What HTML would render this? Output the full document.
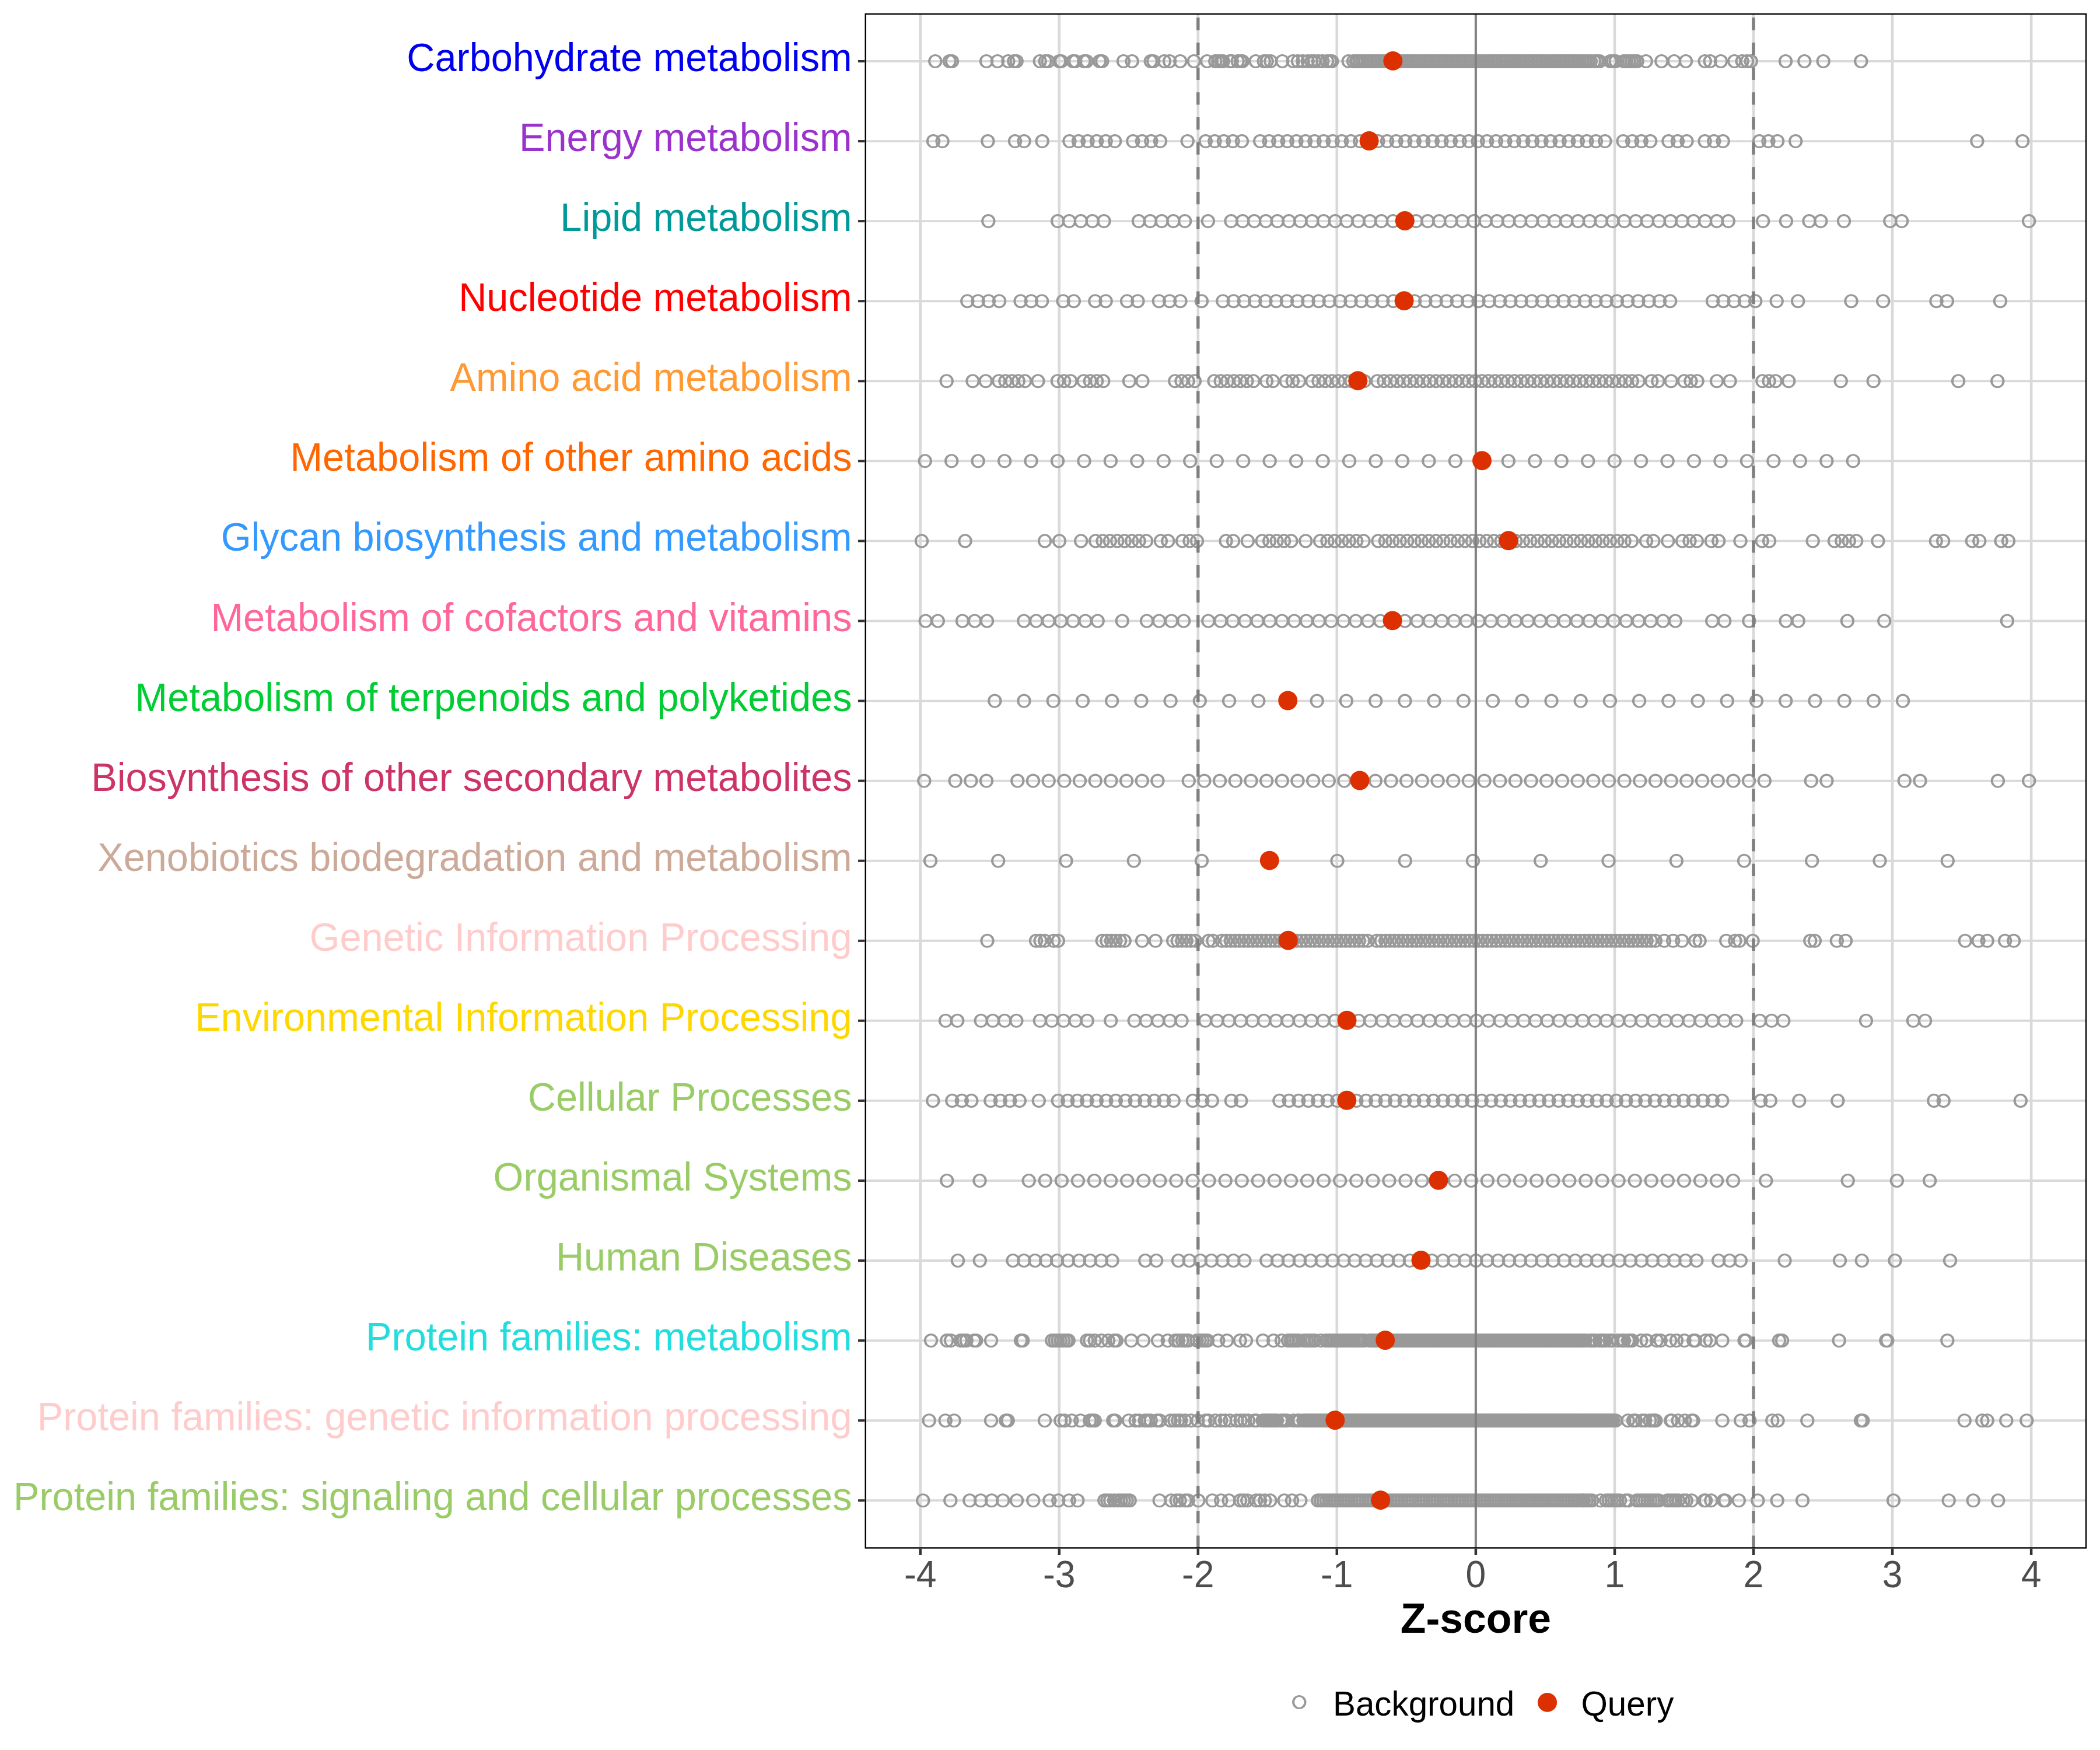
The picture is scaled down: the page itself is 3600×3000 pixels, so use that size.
<!DOCTYPE html><html><head><meta charset="utf-8"><title>Z-score</title>
<style>html,body{margin:0;padding:0;background:#fff}svg{display:block}text{font-family:"Liberation Sans",sans-serif}</style></head><body>
<svg width="3600" height="3000" viewBox="0 0 3600 3000">
<defs><path id="c" d="M-12.2,0A12.2,12.05 0 1,1 12.2,0A12.2,12.05 0 1,1 -12.2,0ZM-8.2,0A8.2,8.95 0 1,0 8.2,0A8.2,8.95 0 1,0 -8.2,0Z" fill="#999999"/></defs>
<rect width="3600" height="3000" fill="#fff"/>
<g stroke="#D9D9D9" fill="none">
<line x1="1577.7" y1="24.0" x2="1577.7" y2="2653.5" stroke-width="4.6"/>
<line x1="1815.8" y1="24.0" x2="1815.8" y2="2653.5" stroke-width="4.6"/>
<line x1="2053.8" y1="24.0" x2="2053.8" y2="2653.5" stroke-width="4.6"/>
<line x1="2291.8" y1="24.0" x2="2291.8" y2="2653.5" stroke-width="4.6"/>
<line x1="2529.9" y1="24.0" x2="2529.9" y2="2653.5" stroke-width="4.6"/>
<line x1="2768" y1="24.0" x2="2768" y2="2653.5" stroke-width="4.6"/>
<line x1="3006" y1="24.0" x2="3006" y2="2653.5" stroke-width="4.6"/>
<line x1="3244.1" y1="24.0" x2="3244.1" y2="2653.5" stroke-width="4.6"/>
<line x1="3482.1" y1="24.0" x2="3482.1" y2="2653.5" stroke-width="4.6"/>
<line x1="1483.7" y1="105" x2="3576.1" y2="105" stroke-width="3.9"/>
<line x1="1483.7" y1="242.1" x2="3576.1" y2="242.1" stroke-width="3.9"/>
<line x1="1483.7" y1="379.1" x2="3576.1" y2="379.1" stroke-width="3.9"/>
<line x1="1483.7" y1="516.2" x2="3576.1" y2="516.2" stroke-width="3.9"/>
<line x1="1483.7" y1="653.3" x2="3576.1" y2="653.3" stroke-width="3.9"/>
<line x1="1483.7" y1="790.3" x2="3576.1" y2="790.3" stroke-width="3.9"/>
<line x1="1483.7" y1="927.4" x2="3576.1" y2="927.4" stroke-width="3.9"/>
<line x1="1483.7" y1="1064.5" x2="3576.1" y2="1064.5" stroke-width="3.9"/>
<line x1="1483.7" y1="1201.6" x2="3576.1" y2="1201.6" stroke-width="3.9"/>
<line x1="1483.7" y1="1338.6" x2="3576.1" y2="1338.6" stroke-width="3.9"/>
<line x1="1483.7" y1="1475.7" x2="3576.1" y2="1475.7" stroke-width="3.9"/>
<line x1="1483.7" y1="1612.8" x2="3576.1" y2="1612.8" stroke-width="3.9"/>
<line x1="1483.7" y1="1749.8" x2="3576.1" y2="1749.8" stroke-width="3.9"/>
<line x1="1483.7" y1="1886.9" x2="3576.1" y2="1886.9" stroke-width="3.9"/>
<line x1="1483.7" y1="2024" x2="3576.1" y2="2024" stroke-width="3.9"/>
<line x1="1483.7" y1="2161" x2="3576.1" y2="2161" stroke-width="3.9"/>
<line x1="1483.7" y1="2298.1" x2="3576.1" y2="2298.1" stroke-width="3.9"/>
<line x1="1483.7" y1="2435.2" x2="3576.1" y2="2435.2" stroke-width="3.9"/>
<line x1="1483.7" y1="2572.3" x2="3576.1" y2="2572.3" stroke-width="3.9"/>
</g>
<g>
<use href="#c" x="1603.3" y="105"/>
<use href="#c" x="1627.7" y="105"/>
<use href="#c" x="1632" y="105"/>
<use href="#c" x="1691" y="105"/>
<use href="#c" x="1710" y="105"/>
<use href="#c" x="1728.3" y="105"/>
<use href="#c" x="1738.3" y="105"/>
<use href="#c" x="1742.7" y="105"/>
<use href="#c" x="1782.7" y="105"/>
<use href="#c" x="1791.7" y="105"/>
<use href="#c" x="1796.7" y="105"/>
<use href="#c" x="1816" y="105"/>
<use href="#c" x="1819.3" y="105"/>
<use href="#c" x="1839.3" y="105"/>
<use href="#c" x="1843.3" y="105"/>
<use href="#c" x="1858.3" y="105"/>
<use href="#c" x="1862.7" y="105"/>
<use href="#c" x="1885" y="105"/>
<use href="#c" x="1889.3" y="105"/>
<use href="#c" x="1926" y="105"/>
<use href="#c" x="1940.7" y="105"/>
<use href="#c" x="1972.7" y="105"/>
<use href="#c" x="1977.3" y="105"/>
<use href="#c" x="1996" y="105"/>
<use href="#c" x="2005" y="105"/>
<use href="#c" x="2023.3" y="105"/>
<use href="#c" x="2046.7" y="105"/>
<use href="#c" x="2069.3" y="105"/>
<use href="#c" x="2083.3" y="105"/>
<use href="#c" x="2088.3" y="105"/>
<use href="#c" x="2093.3" y="105"/>
<use href="#c" x="2096.7" y="105"/>
<use href="#c" x="2108.3" y="105"/>
<use href="#c" x="2111.7" y="105"/>
<use href="#c" x="2121.7" y="105"/>
<use href="#c" x="2126.7" y="105"/>
<use href="#c" x="2130" y="105"/>
<use href="#c" x="2152.7" y="105"/>
<use href="#c" x="2166.7" y="105"/>
<use href="#c" x="2171.7" y="105"/>
<use href="#c" x="2178.3" y="105"/>
<use href="#c" x="2198.3" y="105"/>
<use href="#c" x="2216.7" y="105"/>
<use href="#c" x="2225" y="105"/>
<use href="#c" x="2233.3" y="105"/>
<use href="#c" x="2241.7" y="105"/>
<use href="#c" x="2248.3" y="105"/>
<use href="#c" x="2253.3" y="105"/>
<use href="#c" x="2260" y="105"/>
<use href="#c" x="2267.3" y="105"/>
<use href="#c" x="2275" y="105"/>
<use href="#c" x="2280" y="105"/>
<use href="#c" x="2283.3" y="105"/>
<use href="#c" x="2311.7" y="105"/>
<use href="#c" x="2320" y="105"/>
<use href="#c" x="2325" y="105"/>
<use href="#c" x="2326.7" y="105"/>
<use href="#c" x="2331.3" y="105"/>
<use href="#c" x="2335.9" y="105"/>
<use href="#c" x="2340.5" y="105"/>
<use href="#c" x="2345.1" y="105"/>
<use href="#c" x="2349.7" y="105"/>
<use href="#c" x="2354.3" y="105"/>
<use href="#c" x="2358.9" y="105"/>
<use href="#c" x="2363.5" y="105"/>
<use href="#c" x="2368.1" y="105"/>
<use href="#c" x="2372.7" y="105"/>
<use href="#c" x="2377.3" y="105"/>
<use href="#c" x="2381.9" y="105"/>
<use href="#c" x="2386.5" y="105"/>
<use href="#c" x="2391.1" y="105"/>
<use href="#c" x="2395.7" y="105"/>
<use href="#c" x="2400.3" y="105"/>
<use href="#c" x="2404.9" y="105"/>
<use href="#c" x="2409.5" y="105"/>
<use href="#c" x="2414.1" y="105"/>
<use href="#c" x="2418.7" y="105"/>
<use href="#c" x="2423.3" y="105"/>
<use href="#c" x="2427.9" y="105"/>
<use href="#c" x="2432.5" y="105"/>
<use href="#c" x="2437.1" y="105"/>
<use href="#c" x="2441.7" y="105"/>
<use href="#c" x="2446.3" y="105"/>
<use href="#c" x="2450.9" y="105"/>
<use href="#c" x="2455.5" y="105"/>
<use href="#c" x="2460.1" y="105"/>
<use href="#c" x="2464.7" y="105"/>
<use href="#c" x="2469.3" y="105"/>
<use href="#c" x="2473.9" y="105"/>
<use href="#c" x="2478.5" y="105"/>
<use href="#c" x="2483.1" y="105"/>
<use href="#c" x="2487.7" y="105"/>
<use href="#c" x="2492.3" y="105"/>
<use href="#c" x="2496.9" y="105"/>
<use href="#c" x="2501.5" y="105"/>
<use href="#c" x="2506.1" y="105"/>
<use href="#c" x="2510.7" y="105"/>
<use href="#c" x="2515.3" y="105"/>
<use href="#c" x="2519.9" y="105"/>
<use href="#c" x="2524.5" y="105"/>
<use href="#c" x="2529.1" y="105"/>
<use href="#c" x="2533.7" y="105"/>
<use href="#c" x="2538.3" y="105"/>
<use href="#c" x="2542.9" y="105"/>
<use href="#c" x="2547.5" y="105"/>
<use href="#c" x="2552.1" y="105"/>
<use href="#c" x="2556.7" y="105"/>
<use href="#c" x="2561.3" y="105"/>
<use href="#c" x="2565.9" y="105"/>
<use href="#c" x="2570.5" y="105"/>
<use href="#c" x="2575.1" y="105"/>
<use href="#c" x="2579.7" y="105"/>
<use href="#c" x="2584.3" y="105"/>
<use href="#c" x="2588.9" y="105"/>
<use href="#c" x="2593.5" y="105"/>
<use href="#c" x="2598.1" y="105"/>
<use href="#c" x="2602.7" y="105"/>
<use href="#c" x="2607.3" y="105"/>
<use href="#c" x="2611.9" y="105"/>
<use href="#c" x="2616.5" y="105"/>
<use href="#c" x="2621.1" y="105"/>
<use href="#c" x="2625.7" y="105"/>
<use href="#c" x="2630.3" y="105"/>
<use href="#c" x="2634.9" y="105"/>
<use href="#c" x="2639.5" y="105"/>
<use href="#c" x="2644.1" y="105"/>
<use href="#c" x="2648.7" y="105"/>
<use href="#c" x="2653.3" y="105"/>
<use href="#c" x="2657.9" y="105"/>
<use href="#c" x="2662.5" y="105"/>
<use href="#c" x="2667.1" y="105"/>
<use href="#c" x="2671.7" y="105"/>
<use href="#c" x="2676.3" y="105"/>
<use href="#c" x="2680.9" y="105"/>
<use href="#c" x="2685.5" y="105"/>
<use href="#c" x="2690.1" y="105"/>
<use href="#c" x="2694.7" y="105"/>
<use href="#c" x="2699.3" y="105"/>
<use href="#c" x="2703.9" y="105"/>
<use href="#c" x="2708.5" y="105"/>
<use href="#c" x="2713.1" y="105"/>
<use href="#c" x="2717.7" y="105"/>
<use href="#c" x="2722.3" y="105"/>
<use href="#c" x="2726.9" y="105"/>
<use href="#c" x="2733" y="105"/>
<use href="#c" x="2737.6" y="105"/>
<use href="#c" x="2742.2" y="105"/>
<use href="#c" x="2760.6" y="105"/>
<use href="#c" x="2765.2" y="105"/>
<use href="#c" x="2769.8" y="105"/>
<use href="#c" x="2783.6" y="105"/>
<use href="#c" x="2788.2" y="105"/>
<use href="#c" x="2792.8" y="105"/>
<use href="#c" x="2797.4" y="105"/>
<use href="#c" x="2802" y="105"/>
<use href="#c" x="2806.6" y="105"/>
<use href="#c" x="2821.7" y="105"/>
<use href="#c" x="2848.3" y="105"/>
<use href="#c" x="2870" y="105"/>
<use href="#c" x="2890" y="105"/>
<use href="#c" x="2922.7" y="105"/>
<use href="#c" x="2931.7" y="105"/>
<use href="#c" x="2950" y="105"/>
<use href="#c" x="2973.3" y="105"/>
<use href="#c" x="2986.7" y="105"/>
<use href="#c" x="2995" y="105"/>
<use href="#c" x="3001.7" y="105"/>
<use href="#c" x="3061" y="105"/>
<use href="#c" x="3093.3" y="105"/>
<use href="#c" x="3125.7" y="105"/>
<use href="#c" x="3190.3" y="105"/>
<use href="#c" x="1600" y="242.1"/>
<use href="#c" x="1615.6" y="242.1"/>
<use href="#c" x="1693.4" y="242.1"/>
<use href="#c" x="1740" y="242.1"/>
<use href="#c" x="1755.6" y="242.1"/>
<use href="#c" x="1786.7" y="242.1"/>
<use href="#c" x="1833.4" y="242.1"/>
<use href="#c" x="1849" y="242.1"/>
<use href="#c" x="1864.5" y="242.1"/>
<use href="#c" x="1880.1" y="242.1"/>
<use href="#c" x="1895.6" y="242.1"/>
<use href="#c" x="1911.2" y="242.1"/>
<use href="#c" x="1942.3" y="242.1"/>
<use href="#c" x="1957.9" y="242.1"/>
<use href="#c" x="1973.4" y="242.1"/>
<use href="#c" x="1989" y="242.1"/>
<use href="#c" x="2035.7" y="242.1"/>
<use href="#c" x="2066.8" y="242.1"/>
<use href="#c" x="2082.4" y="242.1"/>
<use href="#c" x="2097.9" y="242.1"/>
<use href="#c" x="2113.5" y="242.1"/>
<use href="#c" x="2129" y="242.1"/>
<use href="#c" x="2160.2" y="242.1"/>
<use href="#c" x="2175.7" y="242.1"/>
<use href="#c" x="2191.3" y="242.1"/>
<use href="#c" x="2206.8" y="242.1"/>
<use href="#c" x="2222.4" y="242.1"/>
<use href="#c" x="2238" y="242.1"/>
<use href="#c" x="2253.5" y="242.1"/>
<use href="#c" x="2269.1" y="242.1"/>
<use href="#c" x="2284.6" y="242.1"/>
<use href="#c" x="2300.2" y="242.1"/>
<use href="#c" x="2315.8" y="242.1"/>
<use href="#c" x="2331.3" y="242.1"/>
<use href="#c" x="2346.9" y="242.1"/>
<use href="#c" x="2362.4" y="242.1"/>
<use href="#c" x="2378" y="242.1"/>
<use href="#c" x="2393.6" y="242.1"/>
<use href="#c" x="2409.1" y="242.1"/>
<use href="#c" x="2424.7" y="242.1"/>
<use href="#c" x="2440.2" y="242.1"/>
<use href="#c" x="2455.8" y="242.1"/>
<use href="#c" x="2471.4" y="242.1"/>
<use href="#c" x="2486.9" y="242.1"/>
<use href="#c" x="2502.5" y="242.1"/>
<use href="#c" x="2518" y="242.1"/>
<use href="#c" x="2533.6" y="242.1"/>
<use href="#c" x="2549.2" y="242.1"/>
<use href="#c" x="2564.7" y="242.1"/>
<use href="#c" x="2580.3" y="242.1"/>
<use href="#c" x="2595.8" y="242.1"/>
<use href="#c" x="2611.4" y="242.1"/>
<use href="#c" x="2627" y="242.1"/>
<use href="#c" x="2642.5" y="242.1"/>
<use href="#c" x="2658.1" y="242.1"/>
<use href="#c" x="2673.6" y="242.1"/>
<use href="#c" x="2689.2" y="242.1"/>
<use href="#c" x="2704.8" y="242.1"/>
<use href="#c" x="2720.3" y="242.1"/>
<use href="#c" x="2735.9" y="242.1"/>
<use href="#c" x="2751.4" y="242.1"/>
<use href="#c" x="2782.6" y="242.1"/>
<use href="#c" x="2798.1" y="242.1"/>
<use href="#c" x="2813.7" y="242.1"/>
<use href="#c" x="2829.2" y="242.1"/>
<use href="#c" x="2860.4" y="242.1"/>
<use href="#c" x="2875.9" y="242.1"/>
<use href="#c" x="2891.5" y="242.1"/>
<use href="#c" x="2922.6" y="242.1"/>
<use href="#c" x="2938.2" y="242.1"/>
<use href="#c" x="2953.7" y="242.1"/>
<use href="#c" x="3016" y="242.1"/>
<use href="#c" x="3031.5" y="242.1"/>
<use href="#c" x="3047.1" y="242.1"/>
<use href="#c" x="3078.2" y="242.1"/>
<use href="#c" x="3389.4" y="242.1"/>
<use href="#c" x="3467.2" y="242.1"/>
<use href="#c" x="1694.3" y="379.1"/>
<use href="#c" x="1813.2" y="379.1"/>
<use href="#c" x="1833" y="379.1"/>
<use href="#c" x="1852.9" y="379.1"/>
<use href="#c" x="1872.7" y="379.1"/>
<use href="#c" x="1892.5" y="379.1"/>
<use href="#c" x="1952" y="379.1"/>
<use href="#c" x="1971.8" y="379.1"/>
<use href="#c" x="1991.6" y="379.1"/>
<use href="#c" x="2011.4" y="379.1"/>
<use href="#c" x="2031.2" y="379.1"/>
<use href="#c" x="2070.9" y="379.1"/>
<use href="#c" x="2110.5" y="379.1"/>
<use href="#c" x="2130.3" y="379.1"/>
<use href="#c" x="2150.2" y="379.1"/>
<use href="#c" x="2170" y="379.1"/>
<use href="#c" x="2189.8" y="379.1"/>
<use href="#c" x="2209.6" y="379.1"/>
<use href="#c" x="2229.4" y="379.1"/>
<use href="#c" x="2249.3" y="379.1"/>
<use href="#c" x="2269.1" y="379.1"/>
<use href="#c" x="2288.9" y="379.1"/>
<use href="#c" x="2308.7" y="379.1"/>
<use href="#c" x="2328.5" y="379.1"/>
<use href="#c" x="2348.4" y="379.1"/>
<use href="#c" x="2368.2" y="379.1"/>
<use href="#c" x="2388" y="379.1"/>
<use href="#c" x="2407.8" y="379.1"/>
<use href="#c" x="2427.6" y="379.1"/>
<use href="#c" x="2447.5" y="379.1"/>
<use href="#c" x="2467.3" y="379.1"/>
<use href="#c" x="2487.1" y="379.1"/>
<use href="#c" x="2506.9" y="379.1"/>
<use href="#c" x="2526.7" y="379.1"/>
<use href="#c" x="2546.6" y="379.1"/>
<use href="#c" x="2566.4" y="379.1"/>
<use href="#c" x="2586.2" y="379.1"/>
<use href="#c" x="2606" y="379.1"/>
<use href="#c" x="2625.8" y="379.1"/>
<use href="#c" x="2645.7" y="379.1"/>
<use href="#c" x="2665.5" y="379.1"/>
<use href="#c" x="2685.3" y="379.1"/>
<use href="#c" x="2705.1" y="379.1"/>
<use href="#c" x="2724.9" y="379.1"/>
<use href="#c" x="2744.8" y="379.1"/>
<use href="#c" x="2764.6" y="379.1"/>
<use href="#c" x="2784.4" y="379.1"/>
<use href="#c" x="2804.2" y="379.1"/>
<use href="#c" x="2824" y="379.1"/>
<use href="#c" x="2843.9" y="379.1"/>
<use href="#c" x="2863.7" y="379.1"/>
<use href="#c" x="2883.5" y="379.1"/>
<use href="#c" x="2903.3" y="379.1"/>
<use href="#c" x="2923.1" y="379.1"/>
<use href="#c" x="2943" y="379.1"/>
<use href="#c" x="2962.8" y="379.1"/>
<use href="#c" x="3022.2" y="379.1"/>
<use href="#c" x="3061.9" y="379.1"/>
<use href="#c" x="3101.5" y="379.1"/>
<use href="#c" x="3121.3" y="379.1"/>
<use href="#c" x="3161" y="379.1"/>
<use href="#c" x="3240.3" y="379.1"/>
<use href="#c" x="3260.1" y="379.1"/>
<use href="#c" x="3478.1" y="379.1"/>
<use href="#c" x="1658.3" y="516.2"/>
<use href="#c" x="1676.6" y="516.2"/>
<use href="#c" x="1694.8" y="516.2"/>
<use href="#c" x="1713.1" y="516.2"/>
<use href="#c" x="1749.6" y="516.2"/>
<use href="#c" x="1767.8" y="516.2"/>
<use href="#c" x="1786.1" y="516.2"/>
<use href="#c" x="1822.6" y="516.2"/>
<use href="#c" x="1840.8" y="516.2"/>
<use href="#c" x="1877.4" y="516.2"/>
<use href="#c" x="1895.6" y="516.2"/>
<use href="#c" x="1932.1" y="516.2"/>
<use href="#c" x="1950.4" y="516.2"/>
<use href="#c" x="1986.9" y="516.2"/>
<use href="#c" x="2005.1" y="516.2"/>
<use href="#c" x="2023.4" y="516.2"/>
<use href="#c" x="2059.9" y="516.2"/>
<use href="#c" x="2096.4" y="516.2"/>
<use href="#c" x="2114.7" y="516.2"/>
<use href="#c" x="2132.9" y="516.2"/>
<use href="#c" x="2151.2" y="516.2"/>
<use href="#c" x="2169.4" y="516.2"/>
<use href="#c" x="2187.7" y="516.2"/>
<use href="#c" x="2205.9" y="516.2"/>
<use href="#c" x="2224.2" y="516.2"/>
<use href="#c" x="2242.5" y="516.2"/>
<use href="#c" x="2260.7" y="516.2"/>
<use href="#c" x="2279" y="516.2"/>
<use href="#c" x="2297.2" y="516.2"/>
<use href="#c" x="2315.5" y="516.2"/>
<use href="#c" x="2333.7" y="516.2"/>
<use href="#c" x="2352" y="516.2"/>
<use href="#c" x="2370.2" y="516.2"/>
<use href="#c" x="2388.5" y="516.2"/>
<use href="#c" x="2406.8" y="516.2"/>
<use href="#c" x="2425" y="516.2"/>
<use href="#c" x="2443.3" y="516.2"/>
<use href="#c" x="2461.5" y="516.2"/>
<use href="#c" x="2479.8" y="516.2"/>
<use href="#c" x="2498" y="516.2"/>
<use href="#c" x="2516.3" y="516.2"/>
<use href="#c" x="2534.5" y="516.2"/>
<use href="#c" x="2552.8" y="516.2"/>
<use href="#c" x="2571.1" y="516.2"/>
<use href="#c" x="2589.3" y="516.2"/>
<use href="#c" x="2607.6" y="516.2"/>
<use href="#c" x="2625.8" y="516.2"/>
<use href="#c" x="2644.1" y="516.2"/>
<use href="#c" x="2662.3" y="516.2"/>
<use href="#c" x="2680.6" y="516.2"/>
<use href="#c" x="2698.8" y="516.2"/>
<use href="#c" x="2717.1" y="516.2"/>
<use href="#c" x="2735.3" y="516.2"/>
<use href="#c" x="2753.6" y="516.2"/>
<use href="#c" x="2771.9" y="516.2"/>
<use href="#c" x="2790.1" y="516.2"/>
<use href="#c" x="2808.4" y="516.2"/>
<use href="#c" x="2826.6" y="516.2"/>
<use href="#c" x="2844.9" y="516.2"/>
<use href="#c" x="2863.1" y="516.2"/>
<use href="#c" x="2936.1" y="516.2"/>
<use href="#c" x="2954.4" y="516.2"/>
<use href="#c" x="2972.7" y="516.2"/>
<use href="#c" x="2990.9" y="516.2"/>
<use href="#c" x="3009.2" y="516.2"/>
<use href="#c" x="3045.7" y="516.2"/>
<use href="#c" x="3082.2" y="516.2"/>
<use href="#c" x="3173.5" y="516.2"/>
<use href="#c" x="3228.2" y="516.2"/>
<use href="#c" x="3319.5" y="516.2"/>
<use href="#c" x="3337.8" y="516.2"/>
<use href="#c" x="3429" y="516.2"/>
<use href="#c" x="1622.7" y="653.3"/>
<use href="#c" x="1667.5" y="653.3"/>
<use href="#c" x="1689.8" y="653.3"/>
<use href="#c" x="1712.2" y="653.3"/>
<use href="#c" x="1723.4" y="653.3"/>
<use href="#c" x="1734.6" y="653.3"/>
<use href="#c" x="1745.8" y="653.3"/>
<use href="#c" x="1757" y="653.3"/>
<use href="#c" x="1779.4" y="653.3"/>
<use href="#c" x="1812.9" y="653.3"/>
<use href="#c" x="1824.1" y="653.3"/>
<use href="#c" x="1835.3" y="653.3"/>
<use href="#c" x="1857.7" y="653.3"/>
<use href="#c" x="1868.9" y="653.3"/>
<use href="#c" x="1880.1" y="653.3"/>
<use href="#c" x="1891.3" y="653.3"/>
<use href="#c" x="1936" y="653.3"/>
<use href="#c" x="1958.4" y="653.3"/>
<use href="#c" x="2014.3" y="653.3"/>
<use href="#c" x="2025.5" y="653.3"/>
<use href="#c" x="2036.7" y="653.3"/>
<use href="#c" x="2047.9" y="653.3"/>
<use href="#c" x="2081.5" y="653.3"/>
<use href="#c" x="2092.7" y="653.3"/>
<use href="#c" x="2103.9" y="653.3"/>
<use href="#c" x="2115.1" y="653.3"/>
<use href="#c" x="2126.2" y="653.3"/>
<use href="#c" x="2137.4" y="653.3"/>
<use href="#c" x="2148.6" y="653.3"/>
<use href="#c" x="2171" y="653.3"/>
<use href="#c" x="2182.2" y="653.3"/>
<use href="#c" x="2204.6" y="653.3"/>
<use href="#c" x="2215.8" y="653.3"/>
<use href="#c" x="2227" y="653.3"/>
<use href="#c" x="2249.3" y="653.3"/>
<use href="#c" x="2260.5" y="653.3"/>
<use href="#c" x="2271.7" y="653.3"/>
<use href="#c" x="2282.9" y="653.3"/>
<use href="#c" x="2294.1" y="653.3"/>
<use href="#c" x="2305.3" y="653.3"/>
<use href="#c" x="2316.5" y="653.3"/>
<use href="#c" x="2327.7" y="653.3"/>
<use href="#c" x="2338.9" y="653.3"/>
<use href="#c" x="2361.2" y="653.3"/>
<use href="#c" x="2372.4" y="653.3"/>
<use href="#c" x="2383.6" y="653.3"/>
<use href="#c" x="2394.8" y="653.3"/>
<use href="#c" x="2406" y="653.3"/>
<use href="#c" x="2417.2" y="653.3"/>
<use href="#c" x="2428.4" y="653.3"/>
<use href="#c" x="2439.6" y="653.3"/>
<use href="#c" x="2450.8" y="653.3"/>
<use href="#c" x="2461.9" y="653.3"/>
<use href="#c" x="2473.1" y="653.3"/>
<use href="#c" x="2484.3" y="653.3"/>
<use href="#c" x="2495.5" y="653.3"/>
<use href="#c" x="2506.7" y="653.3"/>
<use href="#c" x="2517.9" y="653.3"/>
<use href="#c" x="2529.1" y="653.3"/>
<use href="#c" x="2540.3" y="653.3"/>
<use href="#c" x="2551.5" y="653.3"/>
<use href="#c" x="2562.7" y="653.3"/>
<use href="#c" x="2573.8" y="653.3"/>
<use href="#c" x="2585" y="653.3"/>
<use href="#c" x="2596.2" y="653.3"/>
<use href="#c" x="2607.4" y="653.3"/>
<use href="#c" x="2618.6" y="653.3"/>
<use href="#c" x="2629.8" y="653.3"/>
<use href="#c" x="2641" y="653.3"/>
<use href="#c" x="2652.2" y="653.3"/>
<use href="#c" x="2663.4" y="653.3"/>
<use href="#c" x="2674.6" y="653.3"/>
<use href="#c" x="2685.8" y="653.3"/>
<use href="#c" x="2696.9" y="653.3"/>
<use href="#c" x="2708.1" y="653.3"/>
<use href="#c" x="2719.3" y="653.3"/>
<use href="#c" x="2730.5" y="653.3"/>
<use href="#c" x="2741.7" y="653.3"/>
<use href="#c" x="2752.9" y="653.3"/>
<use href="#c" x="2764.1" y="653.3"/>
<use href="#c" x="2775.3" y="653.3"/>
<use href="#c" x="2786.5" y="653.3"/>
<use href="#c" x="2797.7" y="653.3"/>
<use href="#c" x="2808.8" y="653.3"/>
<use href="#c" x="2831.2" y="653.3"/>
<use href="#c" x="2842.4" y="653.3"/>
<use href="#c" x="2864.8" y="653.3"/>
<use href="#c" x="2887.2" y="653.3"/>
<use href="#c" x="2898.4" y="653.3"/>
<use href="#c" x="2909.6" y="653.3"/>
<use href="#c" x="2943.1" y="653.3"/>
<use href="#c" x="2965.5" y="653.3"/>
<use href="#c" x="3021.4" y="653.3"/>
<use href="#c" x="3032.6" y="653.3"/>
<use href="#c" x="3043.8" y="653.3"/>
<use href="#c" x="3066.2" y="653.3"/>
<use href="#c" x="3155.7" y="653.3"/>
<use href="#c" x="3211.7" y="653.3"/>
<use href="#c" x="3357.1" y="653.3"/>
<use href="#c" x="3424.3" y="653.3"/>
<use href="#c" x="1585.7" y="790.3"/>
<use href="#c" x="1631.2" y="790.3"/>
<use href="#c" x="1676.6" y="790.3"/>
<use href="#c" x="1722.1" y="790.3"/>
<use href="#c" x="1767.5" y="790.3"/>
<use href="#c" x="1813" y="790.3"/>
<use href="#c" x="1858.5" y="790.3"/>
<use href="#c" x="1903.9" y="790.3"/>
<use href="#c" x="1949.4" y="790.3"/>
<use href="#c" x="1994.8" y="790.3"/>
<use href="#c" x="2040.3" y="790.3"/>
<use href="#c" x="2085.8" y="790.3"/>
<use href="#c" x="2131.2" y="790.3"/>
<use href="#c" x="2176.7" y="790.3"/>
<use href="#c" x="2222.1" y="790.3"/>
<use href="#c" x="2267.6" y="790.3"/>
<use href="#c" x="2313.1" y="790.3"/>
<use href="#c" x="2358.5" y="790.3"/>
<use href="#c" x="2404" y="790.3"/>
<use href="#c" x="2449.4" y="790.3"/>
<use href="#c" x="2494.9" y="790.3"/>
<use href="#c" x="2540.4" y="790.3"/>
<use href="#c" x="2585.8" y="790.3"/>
<use href="#c" x="2631.3" y="790.3"/>
<use href="#c" x="2676.7" y="790.3"/>
<use href="#c" x="2722.2" y="790.3"/>
<use href="#c" x="2767.7" y="790.3"/>
<use href="#c" x="2813.1" y="790.3"/>
<use href="#c" x="2858.6" y="790.3"/>
<use href="#c" x="2904" y="790.3"/>
<use href="#c" x="2949.5" y="790.3"/>
<use href="#c" x="2995" y="790.3"/>
<use href="#c" x="3040.4" y="790.3"/>
<use href="#c" x="3085.9" y="790.3"/>
<use href="#c" x="3131.3" y="790.3"/>
<use href="#c" x="3176.8" y="790.3"/>
<use href="#c" x="1580" y="927.4"/>
<use href="#c" x="1654.5" y="927.4"/>
<use href="#c" x="1791.1" y="927.4"/>
<use href="#c" x="1816" y="927.4"/>
<use href="#c" x="1853.2" y="927.4"/>
<use href="#c" x="1878.1" y="927.4"/>
<use href="#c" x="1890.5" y="927.4"/>
<use href="#c" x="1902.9" y="927.4"/>
<use href="#c" x="1915.3" y="927.4"/>
<use href="#c" x="1927.8" y="927.4"/>
<use href="#c" x="1940.2" y="927.4"/>
<use href="#c" x="1952.6" y="927.4"/>
<use href="#c" x="1965" y="927.4"/>
<use href="#c" x="1989.9" y="927.4"/>
<use href="#c" x="2002.3" y="927.4"/>
<use href="#c" x="2027.1" y="927.4"/>
<use href="#c" x="2039.5" y="927.4"/>
<use href="#c" x="2052" y="927.4"/>
<use href="#c" x="2101.6" y="927.4"/>
<use href="#c" x="2114.1" y="927.4"/>
<use href="#c" x="2138.9" y="927.4"/>
<use href="#c" x="2163.7" y="927.4"/>
<use href="#c" x="2176.2" y="927.4"/>
<use href="#c" x="2188.6" y="927.4"/>
<use href="#c" x="2201" y="927.4"/>
<use href="#c" x="2213.4" y="927.4"/>
<use href="#c" x="2238.3" y="927.4"/>
<use href="#c" x="2263.1" y="927.4"/>
<use href="#c" x="2275.5" y="927.4"/>
<use href="#c" x="2287.9" y="927.4"/>
<use href="#c" x="2300.4" y="927.4"/>
<use href="#c" x="2312.8" y="927.4"/>
<use href="#c" x="2325.2" y="927.4"/>
<use href="#c" x="2337.6" y="927.4"/>
<use href="#c" x="2362.5" y="927.4"/>
<use href="#c" x="2374.9" y="927.4"/>
<use href="#c" x="2387.3" y="927.4"/>
<use href="#c" x="2399.7" y="927.4"/>
<use href="#c" x="2412.1" y="927.4"/>
<use href="#c" x="2424.6" y="927.4"/>
<use href="#c" x="2437" y="927.4"/>
<use href="#c" x="2449.4" y="927.4"/>
<use href="#c" x="2461.8" y="927.4"/>
<use href="#c" x="2474.2" y="927.4"/>
<use href="#c" x="2486.7" y="927.4"/>
<use href="#c" x="2499.1" y="927.4"/>
<use href="#c" x="2511.5" y="927.4"/>
<use href="#c" x="2523.9" y="927.4"/>
<use href="#c" x="2536.3" y="927.4"/>
<use href="#c" x="2548.8" y="927.4"/>
<use href="#c" x="2561.2" y="927.4"/>
<use href="#c" x="2573.6" y="927.4"/>
<use href="#c" x="2586" y="927.4"/>
<use href="#c" x="2598.4" y="927.4"/>
<use href="#c" x="2610.9" y="927.4"/>
<use href="#c" x="2623.3" y="927.4"/>
<use href="#c" x="2635.7" y="927.4"/>
<use href="#c" x="2648.1" y="927.4"/>
<use href="#c" x="2660.5" y="927.4"/>
<use href="#c" x="2673" y="927.4"/>
<use href="#c" x="2685.4" y="927.4"/>
<use href="#c" x="2697.8" y="927.4"/>
<use href="#c" x="2710.2" y="927.4"/>
<use href="#c" x="2722.6" y="927.4"/>
<use href="#c" x="2735.1" y="927.4"/>
<use href="#c" x="2747.5" y="927.4"/>
<use href="#c" x="2759.9" y="927.4"/>
<use href="#c" x="2772.3" y="927.4"/>
<use href="#c" x="2784.7" y="927.4"/>
<use href="#c" x="2797.2" y="927.4"/>
<use href="#c" x="2822" y="927.4"/>
<use href="#c" x="2834.4" y="927.4"/>
<use href="#c" x="2859.3" y="927.4"/>
<use href="#c" x="2884.1" y="927.4"/>
<use href="#c" x="2896.5" y="927.4"/>
<use href="#c" x="2908.9" y="927.4"/>
<use href="#c" x="2933.8" y="927.4"/>
<use href="#c" x="2946.2" y="927.4"/>
<use href="#c" x="2983.5" y="927.4"/>
<use href="#c" x="3020.7" y="927.4"/>
<use href="#c" x="3033.1" y="927.4"/>
<use href="#c" x="3107.7" y="927.4"/>
<use href="#c" x="3144.9" y="927.4"/>
<use href="#c" x="3157.3" y="927.4"/>
<use href="#c" x="3169.8" y="927.4"/>
<use href="#c" x="3182.2" y="927.4"/>
<use href="#c" x="3219.4" y="927.4"/>
<use href="#c" x="3318.8" y="927.4"/>
<use href="#c" x="3331.2" y="927.4"/>
<use href="#c" x="3380.9" y="927.4"/>
<use href="#c" x="3393.3" y="927.4"/>
<use href="#c" x="3430.6" y="927.4"/>
<use href="#c" x="3443" y="927.4"/>
<use href="#c" x="1586.7" y="1064.5"/>
<use href="#c" x="1607.8" y="1064.5"/>
<use href="#c" x="1649.9" y="1064.5"/>
<use href="#c" x="1671" y="1064.5"/>
<use href="#c" x="1692" y="1064.5"/>
<use href="#c" x="1755.3" y="1064.5"/>
<use href="#c" x="1776.3" y="1064.5"/>
<use href="#c" x="1797.4" y="1064.5"/>
<use href="#c" x="1818.5" y="1064.5"/>
<use href="#c" x="1839.5" y="1064.5"/>
<use href="#c" x="1860.6" y="1064.5"/>
<use href="#c" x="1881.7" y="1064.5"/>
<use href="#c" x="1923.8" y="1064.5"/>
<use href="#c" x="1966" y="1064.5"/>
<use href="#c" x="1987" y="1064.5"/>
<use href="#c" x="2008.1" y="1064.5"/>
<use href="#c" x="2029.2" y="1064.5"/>
<use href="#c" x="2071.3" y="1064.5"/>
<use href="#c" x="2092.4" y="1064.5"/>
<use href="#c" x="2113.4" y="1064.5"/>
<use href="#c" x="2134.5" y="1064.5"/>
<use href="#c" x="2155.6" y="1064.5"/>
<use href="#c" x="2176.7" y="1064.5"/>
<use href="#c" x="2197.7" y="1064.5"/>
<use href="#c" x="2218.8" y="1064.5"/>
<use href="#c" x="2239.9" y="1064.5"/>
<use href="#c" x="2260.9" y="1064.5"/>
<use href="#c" x="2282" y="1064.5"/>
<use href="#c" x="2303.1" y="1064.5"/>
<use href="#c" x="2324.2" y="1064.5"/>
<use href="#c" x="2345.2" y="1064.5"/>
<use href="#c" x="2366.3" y="1064.5"/>
<use href="#c" x="2387.4" y="1064.5"/>
<use href="#c" x="2408.4" y="1064.5"/>
<use href="#c" x="2429.5" y="1064.5"/>
<use href="#c" x="2450.6" y="1064.5"/>
<use href="#c" x="2471.6" y="1064.5"/>
<use href="#c" x="2492.7" y="1064.5"/>
<use href="#c" x="2513.8" y="1064.5"/>
<use href="#c" x="2534.8" y="1064.5"/>
<use href="#c" x="2555.9" y="1064.5"/>
<use href="#c" x="2577" y="1064.5"/>
<use href="#c" x="2598.1" y="1064.5"/>
<use href="#c" x="2619.1" y="1064.5"/>
<use href="#c" x="2640.2" y="1064.5"/>
<use href="#c" x="2661.3" y="1064.5"/>
<use href="#c" x="2682.3" y="1064.5"/>
<use href="#c" x="2703.4" y="1064.5"/>
<use href="#c" x="2724.5" y="1064.5"/>
<use href="#c" x="2745.6" y="1064.5"/>
<use href="#c" x="2766.6" y="1064.5"/>
<use href="#c" x="2787.7" y="1064.5"/>
<use href="#c" x="2808.8" y="1064.5"/>
<use href="#c" x="2829.8" y="1064.5"/>
<use href="#c" x="2850.9" y="1064.5"/>
<use href="#c" x="2872" y="1064.5"/>
<use href="#c" x="2935.2" y="1064.5"/>
<use href="#c" x="2956.2" y="1064.5"/>
<use href="#c" x="2998.4" y="1064.5"/>
<use href="#c" x="3061.6" y="1064.5"/>
<use href="#c" x="3082.7" y="1064.5"/>
<use href="#c" x="3166.9" y="1064.5"/>
<use href="#c" x="3230.2" y="1064.5"/>
<use href="#c" x="3440.9" y="1064.5"/>
<use href="#c" x="1705.3" y="1201.6"/>
<use href="#c" x="1755.5" y="1201.6"/>
<use href="#c" x="1805.7" y="1201.6"/>
<use href="#c" x="1856" y="1201.6"/>
<use href="#c" x="1906.2" y="1201.6"/>
<use href="#c" x="1956.4" y="1201.6"/>
<use href="#c" x="2006.6" y="1201.6"/>
<use href="#c" x="2056.8" y="1201.6"/>
<use href="#c" x="2107.1" y="1201.6"/>
<use href="#c" x="2157.3" y="1201.6"/>
<use href="#c" x="2207.5" y="1201.6"/>
<use href="#c" x="2257.7" y="1201.6"/>
<use href="#c" x="2307.9" y="1201.6"/>
<use href="#c" x="2358.2" y="1201.6"/>
<use href="#c" x="2408.4" y="1201.6"/>
<use href="#c" x="2458.6" y="1201.6"/>
<use href="#c" x="2508.8" y="1201.6"/>
<use href="#c" x="2559" y="1201.6"/>
<use href="#c" x="2609.3" y="1201.6"/>
<use href="#c" x="2659.5" y="1201.6"/>
<use href="#c" x="2709.7" y="1201.6"/>
<use href="#c" x="2759.9" y="1201.6"/>
<use href="#c" x="2810.1" y="1201.6"/>
<use href="#c" x="2860.4" y="1201.6"/>
<use href="#c" x="2910.6" y="1201.6"/>
<use href="#c" x="2960.8" y="1201.6"/>
<use href="#c" x="3011" y="1201.6"/>
<use href="#c" x="3061.2" y="1201.6"/>
<use href="#c" x="3111.5" y="1201.6"/>
<use href="#c" x="3161.7" y="1201.6"/>
<use href="#c" x="3211.9" y="1201.6"/>
<use href="#c" x="3262.1" y="1201.6"/>
<use href="#c" x="1584.3" y="1338.6"/>
<use href="#c" x="1637.6" y="1338.6"/>
<use href="#c" x="1664.3" y="1338.6"/>
<use href="#c" x="1691" y="1338.6"/>
<use href="#c" x="1744.3" y="1338.6"/>
<use href="#c" x="1771" y="1338.6"/>
<use href="#c" x="1797.7" y="1338.6"/>
<use href="#c" x="1824.4" y="1338.6"/>
<use href="#c" x="1851" y="1338.6"/>
<use href="#c" x="1877.7" y="1338.6"/>
<use href="#c" x="1904.4" y="1338.6"/>
<use href="#c" x="1931.1" y="1338.6"/>
<use href="#c" x="1957.8" y="1338.6"/>
<use href="#c" x="1984.4" y="1338.6"/>
<use href="#c" x="2037.8" y="1338.6"/>
<use href="#c" x="2064.4" y="1338.6"/>
<use href="#c" x="2091.1" y="1338.6"/>
<use href="#c" x="2117.8" y="1338.6"/>
<use href="#c" x="2144.5" y="1338.6"/>
<use href="#c" x="2171.2" y="1338.6"/>
<use href="#c" x="2197.8" y="1338.6"/>
<use href="#c" x="2224.5" y="1338.6"/>
<use href="#c" x="2251.2" y="1338.6"/>
<use href="#c" x="2277.8" y="1338.6"/>
<use href="#c" x="2304.5" y="1338.6"/>
<use href="#c" x="2331.2" y="1338.6"/>
<use href="#c" x="2357.9" y="1338.6"/>
<use href="#c" x="2384.6" y="1338.6"/>
<use href="#c" x="2411.2" y="1338.6"/>
<use href="#c" x="2437.9" y="1338.6"/>
<use href="#c" x="2464.6" y="1338.6"/>
<use href="#c" x="2491.2" y="1338.6"/>
<use href="#c" x="2517.9" y="1338.6"/>
<use href="#c" x="2544.6" y="1338.6"/>
<use href="#c" x="2571.3" y="1338.6"/>
<use href="#c" x="2597.9" y="1338.6"/>
<use href="#c" x="2624.6" y="1338.6"/>
<use href="#c" x="2651.3" y="1338.6"/>
<use href="#c" x="2678" y="1338.6"/>
<use href="#c" x="2704.7" y="1338.6"/>
<use href="#c" x="2731.3" y="1338.6"/>
<use href="#c" x="2758" y="1338.6"/>
<use href="#c" x="2784.7" y="1338.6"/>
<use href="#c" x="2811.3" y="1338.6"/>
<use href="#c" x="2838" y="1338.6"/>
<use href="#c" x="2864.7" y="1338.6"/>
<use href="#c" x="2891.4" y="1338.6"/>
<use href="#c" x="2918.1" y="1338.6"/>
<use href="#c" x="2944.7" y="1338.6"/>
<use href="#c" x="2971.4" y="1338.6"/>
<use href="#c" x="2998.1" y="1338.6"/>
<use href="#c" x="3024.8" y="1338.6"/>
<use href="#c" x="3104.8" y="1338.6"/>
<use href="#c" x="3131.4" y="1338.6"/>
<use href="#c" x="3264.8" y="1338.6"/>
<use href="#c" x="3291.5" y="1338.6"/>
<use href="#c" x="3424.9" y="1338.6"/>
<use href="#c" x="3478.2" y="1338.6"/>
<use href="#c" x="1595" y="1475.7"/>
<use href="#c" x="1711.2" y="1475.7"/>
<use href="#c" x="1827.5" y="1475.7"/>
<use href="#c" x="1943.8" y="1475.7"/>
<use href="#c" x="2060" y="1475.7"/>
<use href="#c" x="2176.2" y="1475.7"/>
<use href="#c" x="2292.5" y="1475.7"/>
<use href="#c" x="2408.8" y="1475.7"/>
<use href="#c" x="2525" y="1475.7"/>
<use href="#c" x="2641.2" y="1475.7"/>
<use href="#c" x="2757.5" y="1475.7"/>
<use href="#c" x="2873.8" y="1475.7"/>
<use href="#c" x="2990" y="1475.7"/>
<use href="#c" x="3106.2" y="1475.7"/>
<use href="#c" x="3222.5" y="1475.7"/>
<use href="#c" x="3338.8" y="1475.7"/>
<use href="#c" x="1692.5" y="1612.8"/>
<use href="#c" x="1776" y="1612.8"/>
<use href="#c" x="1783.5" y="1612.8"/>
<use href="#c" x="1791.1" y="1612.8"/>
<use href="#c" x="1806.3" y="1612.8"/>
<use href="#c" x="1813.9" y="1612.8"/>
<use href="#c" x="1889.7" y="1612.8"/>
<use href="#c" x="1897.3" y="1612.8"/>
<use href="#c" x="1904.9" y="1612.8"/>
<use href="#c" x="1912.5" y="1612.8"/>
<use href="#c" x="1920.1" y="1612.8"/>
<use href="#c" x="1927.7" y="1612.8"/>
<use href="#c" x="1958" y="1612.8"/>
<use href="#c" x="1980.8" y="1612.8"/>
<use href="#c" x="2011.1" y="1612.8"/>
<use href="#c" x="2018.7" y="1612.8"/>
<use href="#c" x="2026.3" y="1612.8"/>
<use href="#c" x="2033.8" y="1612.8"/>
<use href="#c" x="2041.4" y="1612.8"/>
<use href="#c" x="2049" y="1612.8"/>
<use href="#c" x="2071.8" y="1612.8"/>
<use href="#c" x="2079.4" y="1612.8"/>
<use href="#c" x="2094.5" y="1612.8"/>
<use href="#c" x="2102.1" y="1612.8"/>
<use href="#c" x="2109.7" y="1612.8"/>
<use href="#c" x="2117.3" y="1612.8"/>
<use href="#c" x="2124.9" y="1612.8"/>
<use href="#c" x="2132.5" y="1612.8"/>
<use href="#c" x="2140" y="1612.8"/>
<use href="#c" x="2147.6" y="1612.8"/>
<use href="#c" x="2155.2" y="1612.8"/>
<use href="#c" x="2162.8" y="1612.8"/>
<use href="#c" x="2170.4" y="1612.8"/>
<use href="#c" x="2178" y="1612.8"/>
<use href="#c" x="2185.6" y="1612.8"/>
<use href="#c" x="2193.1" y="1612.8"/>
<use href="#c" x="2200.7" y="1612.8"/>
<use href="#c" x="2208.3" y="1612.8"/>
<use href="#c" x="2215.9" y="1612.8"/>
<use href="#c" x="2223.5" y="1612.8"/>
<use href="#c" x="2231.1" y="1612.8"/>
<use href="#c" x="2238.6" y="1612.8"/>
<use href="#c" x="2246.2" y="1612.8"/>
<use href="#c" x="2253.8" y="1612.8"/>
<use href="#c" x="2261.4" y="1612.8"/>
<use href="#c" x="2269" y="1612.8"/>
<use href="#c" x="2276.6" y="1612.8"/>
<use href="#c" x="2284.2" y="1612.8"/>
<use href="#c" x="2291.7" y="1612.8"/>
<use href="#c" x="2299.3" y="1612.8"/>
<use href="#c" x="2306.9" y="1612.8"/>
<use href="#c" x="2314.5" y="1612.8"/>
<use href="#c" x="2322.1" y="1612.8"/>
<use href="#c" x="2329.7" y="1612.8"/>
<use href="#c" x="2337.2" y="1612.8"/>
<use href="#c" x="2344.8" y="1612.8"/>
<use href="#c" x="2360" y="1612.8"/>
<use href="#c" x="2367.6" y="1612.8"/>
<use href="#c" x="2375.2" y="1612.8"/>
<use href="#c" x="2382.8" y="1612.8"/>
<use href="#c" x="2390.3" y="1612.8"/>
<use href="#c" x="2397.9" y="1612.8"/>
<use href="#c" x="2405.5" y="1612.8"/>
<use href="#c" x="2413.1" y="1612.8"/>
<use href="#c" x="2420.7" y="1612.8"/>
<use href="#c" x="2428.3" y="1612.8"/>
<use href="#c" x="2435.9" y="1612.8"/>
<use href="#c" x="2443.4" y="1612.8"/>
<use href="#c" x="2451" y="1612.8"/>
<use href="#c" x="2458.6" y="1612.8"/>
<use href="#c" x="2466.2" y="1612.8"/>
<use href="#c" x="2473.8" y="1612.8"/>
<use href="#c" x="2481.4" y="1612.8"/>
<use href="#c" x="2488.9" y="1612.8"/>
<use href="#c" x="2496.5" y="1612.8"/>
<use href="#c" x="2504.1" y="1612.8"/>
<use href="#c" x="2511.7" y="1612.8"/>
<use href="#c" x="2519.3" y="1612.8"/>
<use href="#c" x="2526.9" y="1612.8"/>
<use href="#c" x="2534.5" y="1612.8"/>
<use href="#c" x="2542" y="1612.8"/>
<use href="#c" x="2549.6" y="1612.8"/>
<use href="#c" x="2557.2" y="1612.8"/>
<use href="#c" x="2564.8" y="1612.8"/>
<use href="#c" x="2572.4" y="1612.8"/>
<use href="#c" x="2580" y="1612.8"/>
<use href="#c" x="2587.6" y="1612.8"/>
<use href="#c" x="2595.1" y="1612.8"/>
<use href="#c" x="2602.7" y="1612.8"/>
<use href="#c" x="2610.3" y="1612.8"/>
<use href="#c" x="2617.9" y="1612.8"/>
<use href="#c" x="2625.5" y="1612.8"/>
<use href="#c" x="2633.1" y="1612.8"/>
<use href="#c" x="2640.7" y="1612.8"/>
<use href="#c" x="2648.2" y="1612.8"/>
<use href="#c" x="2655.8" y="1612.8"/>
<use href="#c" x="2663.4" y="1612.8"/>
<use href="#c" x="2671" y="1612.8"/>
<use href="#c" x="2678.6" y="1612.8"/>
<use href="#c" x="2686.2" y="1612.8"/>
<use href="#c" x="2693.7" y="1612.8"/>
<use href="#c" x="2701.3" y="1612.8"/>
<use href="#c" x="2708.9" y="1612.8"/>
<use href="#c" x="2716.5" y="1612.8"/>
<use href="#c" x="2724.1" y="1612.8"/>
<use href="#c" x="2731.7" y="1612.8"/>
<use href="#c" x="2739.3" y="1612.8"/>
<use href="#c" x="2746.8" y="1612.8"/>
<use href="#c" x="2754.4" y="1612.8"/>
<use href="#c" x="2762" y="1612.8"/>
<use href="#c" x="2769.6" y="1612.8"/>
<use href="#c" x="2777.2" y="1612.8"/>
<use href="#c" x="2784.8" y="1612.8"/>
<use href="#c" x="2792.3" y="1612.8"/>
<use href="#c" x="2799.9" y="1612.8"/>
<use href="#c" x="2807.5" y="1612.8"/>
<use href="#c" x="2815.1" y="1612.8"/>
<use href="#c" x="2822.7" y="1612.8"/>
<use href="#c" x="2830.3" y="1612.8"/>
<use href="#c" x="2837.9" y="1612.8"/>
<use href="#c" x="2853" y="1612.8"/>
<use href="#c" x="2868.2" y="1612.8"/>
<use href="#c" x="2883.4" y="1612.8"/>
<use href="#c" x="2906.1" y="1612.8"/>
<use href="#c" x="2913.7" y="1612.8"/>
<use href="#c" x="2959.2" y="1612.8"/>
<use href="#c" x="2974.4" y="1612.8"/>
<use href="#c" x="2982" y="1612.8"/>
<use href="#c" x="3004.7" y="1612.8"/>
<use href="#c" x="3103.3" y="1612.8"/>
<use href="#c" x="3110.9" y="1612.8"/>
<use href="#c" x="3148.8" y="1612.8"/>
<use href="#c" x="3164" y="1612.8"/>
<use href="#c" x="3368.8" y="1612.8"/>
<use href="#c" x="3391.6" y="1612.8"/>
<use href="#c" x="3406.7" y="1612.8"/>
<use href="#c" x="3437.1" y="1612.8"/>
<use href="#c" x="3452.2" y="1612.8"/>
<use href="#c" x="1621" y="1749.8"/>
<use href="#c" x="1641.2" y="1749.8"/>
<use href="#c" x="1681.7" y="1749.8"/>
<use href="#c" x="1701.9" y="1749.8"/>
<use href="#c" x="1722.2" y="1749.8"/>
<use href="#c" x="1742.4" y="1749.8"/>
<use href="#c" x="1782.8" y="1749.8"/>
<use href="#c" x="1803.1" y="1749.8"/>
<use href="#c" x="1823.3" y="1749.8"/>
<use href="#c" x="1843.5" y="1749.8"/>
<use href="#c" x="1863.8" y="1749.8"/>
<use href="#c" x="1904.2" y="1749.8"/>
<use href="#c" x="1944.7" y="1749.8"/>
<use href="#c" x="1964.9" y="1749.8"/>
<use href="#c" x="1985.1" y="1749.8"/>
<use href="#c" x="2005.4" y="1749.8"/>
<use href="#c" x="2025.6" y="1749.8"/>
<use href="#c" x="2066.1" y="1749.8"/>
<use href="#c" x="2086.3" y="1749.8"/>
<use href="#c" x="2106.5" y="1749.8"/>
<use href="#c" x="2126.8" y="1749.8"/>
<use href="#c" x="2147" y="1749.8"/>
<use href="#c" x="2167.2" y="1749.8"/>
<use href="#c" x="2187.4" y="1749.8"/>
<use href="#c" x="2207.7" y="1749.8"/>
<use href="#c" x="2227.9" y="1749.8"/>
<use href="#c" x="2248.1" y="1749.8"/>
<use href="#c" x="2268.4" y="1749.8"/>
<use href="#c" x="2288.6" y="1749.8"/>
<use href="#c" x="2308.8" y="1749.8"/>
<use href="#c" x="2329.1" y="1749.8"/>
<use href="#c" x="2349.3" y="1749.8"/>
<use href="#c" x="2369.5" y="1749.8"/>
<use href="#c" x="2389.7" y="1749.8"/>
<use href="#c" x="2410" y="1749.8"/>
<use href="#c" x="2430.2" y="1749.8"/>
<use href="#c" x="2450.4" y="1749.8"/>
<use href="#c" x="2470.7" y="1749.8"/>
<use href="#c" x="2490.9" y="1749.8"/>
<use href="#c" x="2511.1" y="1749.8"/>
<use href="#c" x="2531.3" y="1749.8"/>
<use href="#c" x="2551.6" y="1749.8"/>
<use href="#c" x="2571.8" y="1749.8"/>
<use href="#c" x="2592" y="1749.8"/>
<use href="#c" x="2612.3" y="1749.8"/>
<use href="#c" x="2632.5" y="1749.8"/>
<use href="#c" x="2652.7" y="1749.8"/>
<use href="#c" x="2673" y="1749.8"/>
<use href="#c" x="2693.2" y="1749.8"/>
<use href="#c" x="2713.4" y="1749.8"/>
<use href="#c" x="2733.7" y="1749.8"/>
<use href="#c" x="2753.9" y="1749.8"/>
<use href="#c" x="2774.1" y="1749.8"/>
<use href="#c" x="2794.3" y="1749.8"/>
<use href="#c" x="2814.6" y="1749.8"/>
<use href="#c" x="2834.8" y="1749.8"/>
<use href="#c" x="2855" y="1749.8"/>
<use href="#c" x="2875.3" y="1749.8"/>
<use href="#c" x="2895.5" y="1749.8"/>
<use href="#c" x="2915.7" y="1749.8"/>
<use href="#c" x="2935.9" y="1749.8"/>
<use href="#c" x="2956.2" y="1749.8"/>
<use href="#c" x="2976.4" y="1749.8"/>
<use href="#c" x="3016.9" y="1749.8"/>
<use href="#c" x="3037.1" y="1749.8"/>
<use href="#c" x="3057.3" y="1749.8"/>
<use href="#c" x="3198.9" y="1749.8"/>
<use href="#c" x="3279.9" y="1749.8"/>
<use href="#c" x="3300.1" y="1749.8"/>
<use href="#c" x="1599.3" y="1886.9"/>
<use href="#c" x="1632.3" y="1886.9"/>
<use href="#c" x="1648.8" y="1886.9"/>
<use href="#c" x="1665.3" y="1886.9"/>
<use href="#c" x="1698.3" y="1886.9"/>
<use href="#c" x="1714.8" y="1886.9"/>
<use href="#c" x="1731.3" y="1886.9"/>
<use href="#c" x="1747.8" y="1886.9"/>
<use href="#c" x="1780.8" y="1886.9"/>
<use href="#c" x="1813.8" y="1886.9"/>
<use href="#c" x="1830.3" y="1886.9"/>
<use href="#c" x="1846.8" y="1886.9"/>
<use href="#c" x="1863.3" y="1886.9"/>
<use href="#c" x="1879.8" y="1886.9"/>
<use href="#c" x="1896.3" y="1886.9"/>
<use href="#c" x="1912.8" y="1886.9"/>
<use href="#c" x="1929.3" y="1886.9"/>
<use href="#c" x="1945.8" y="1886.9"/>
<use href="#c" x="1962.3" y="1886.9"/>
<use href="#c" x="1978.8" y="1886.9"/>
<use href="#c" x="1995.3" y="1886.9"/>
<use href="#c" x="2011.8" y="1886.9"/>
<use href="#c" x="2044.8" y="1886.9"/>
<use href="#c" x="2061.3" y="1886.9"/>
<use href="#c" x="2077.8" y="1886.9"/>
<use href="#c" x="2110.8" y="1886.9"/>
<use href="#c" x="2127.3" y="1886.9"/>
<use href="#c" x="2193.3" y="1886.9"/>
<use href="#c" x="2209.8" y="1886.9"/>
<use href="#c" x="2226.3" y="1886.9"/>
<use href="#c" x="2242.8" y="1886.9"/>
<use href="#c" x="2259.3" y="1886.9"/>
<use href="#c" x="2275.8" y="1886.9"/>
<use href="#c" x="2292.3" y="1886.9"/>
<use href="#c" x="2308.8" y="1886.9"/>
<use href="#c" x="2325.3" y="1886.9"/>
<use href="#c" x="2341.8" y="1886.9"/>
<use href="#c" x="2358.3" y="1886.9"/>
<use href="#c" x="2374.8" y="1886.9"/>
<use href="#c" x="2391.3" y="1886.9"/>
<use href="#c" x="2407.8" y="1886.9"/>
<use href="#c" x="2424.3" y="1886.9"/>
<use href="#c" x="2440.8" y="1886.9"/>
<use href="#c" x="2457.3" y="1886.9"/>
<use href="#c" x="2473.8" y="1886.9"/>
<use href="#c" x="2490.3" y="1886.9"/>
<use href="#c" x="2506.8" y="1886.9"/>
<use href="#c" x="2523.3" y="1886.9"/>
<use href="#c" x="2539.8" y="1886.9"/>
<use href="#c" x="2556.3" y="1886.9"/>
<use href="#c" x="2572.8" y="1886.9"/>
<use href="#c" x="2589.3" y="1886.9"/>
<use href="#c" x="2605.8" y="1886.9"/>
<use href="#c" x="2622.3" y="1886.9"/>
<use href="#c" x="2638.8" y="1886.9"/>
<use href="#c" x="2655.3" y="1886.9"/>
<use href="#c" x="2671.8" y="1886.9"/>
<use href="#c" x="2688.3" y="1886.9"/>
<use href="#c" x="2704.8" y="1886.9"/>
<use href="#c" x="2721.3" y="1886.9"/>
<use href="#c" x="2737.8" y="1886.9"/>
<use href="#c" x="2754.3" y="1886.9"/>
<use href="#c" x="2770.8" y="1886.9"/>
<use href="#c" x="2787.3" y="1886.9"/>
<use href="#c" x="2803.8" y="1886.9"/>
<use href="#c" x="2820.3" y="1886.9"/>
<use href="#c" x="2836.8" y="1886.9"/>
<use href="#c" x="2853.3" y="1886.9"/>
<use href="#c" x="2869.8" y="1886.9"/>
<use href="#c" x="2886.3" y="1886.9"/>
<use href="#c" x="2902.8" y="1886.9"/>
<use href="#c" x="2919.3" y="1886.9"/>
<use href="#c" x="2935.8" y="1886.9"/>
<use href="#c" x="2952.3" y="1886.9"/>
<use href="#c" x="3018.3" y="1886.9"/>
<use href="#c" x="3034.8" y="1886.9"/>
<use href="#c" x="3084.3" y="1886.9"/>
<use href="#c" x="3150.3" y="1886.9"/>
<use href="#c" x="3315.3" y="1886.9"/>
<use href="#c" x="3331.8" y="1886.9"/>
<use href="#c" x="3463.8" y="1886.9"/>
<use href="#c" x="1623.3" y="2024"/>
<use href="#c" x="1679.5" y="2024"/>
<use href="#c" x="1763.7" y="2024"/>
<use href="#c" x="1791.8" y="2024"/>
<use href="#c" x="1819.9" y="2024"/>
<use href="#c" x="1847.9" y="2024"/>
<use href="#c" x="1876" y="2024"/>
<use href="#c" x="1904.1" y="2024"/>
<use href="#c" x="1932.2" y="2024"/>
<use href="#c" x="1960.3" y="2024"/>
<use href="#c" x="1988.3" y="2024"/>
<use href="#c" x="2016.4" y="2024"/>
<use href="#c" x="2044.5" y="2024"/>
<use href="#c" x="2072.6" y="2024"/>
<use href="#c" x="2100.7" y="2024"/>
<use href="#c" x="2128.7" y="2024"/>
<use href="#c" x="2156.8" y="2024"/>
<use href="#c" x="2184.9" y="2024"/>
<use href="#c" x="2213" y="2024"/>
<use href="#c" x="2241.1" y="2024"/>
<use href="#c" x="2269.1" y="2024"/>
<use href="#c" x="2297.2" y="2024"/>
<use href="#c" x="2325.3" y="2024"/>
<use href="#c" x="2353.4" y="2024"/>
<use href="#c" x="2381.5" y="2024"/>
<use href="#c" x="2409.5" y="2024"/>
<use href="#c" x="2437.6" y="2024"/>
<use href="#c" x="2465.7" y="2024"/>
<use href="#c" x="2493.8" y="2024"/>
<use href="#c" x="2521.9" y="2024"/>
<use href="#c" x="2549.9" y="2024"/>
<use href="#c" x="2578" y="2024"/>
<use href="#c" x="2606.1" y="2024"/>
<use href="#c" x="2634.2" y="2024"/>
<use href="#c" x="2662.3" y="2024"/>
<use href="#c" x="2690.3" y="2024"/>
<use href="#c" x="2718.4" y="2024"/>
<use href="#c" x="2746.5" y="2024"/>
<use href="#c" x="2774.6" y="2024"/>
<use href="#c" x="2802.7" y="2024"/>
<use href="#c" x="2830.7" y="2024"/>
<use href="#c" x="2858.8" y="2024"/>
<use href="#c" x="2886.9" y="2024"/>
<use href="#c" x="2915" y="2024"/>
<use href="#c" x="2943.1" y="2024"/>
<use href="#c" x="2971.1" y="2024"/>
<use href="#c" x="3027.3" y="2024"/>
<use href="#c" x="3167.7" y="2024"/>
<use href="#c" x="3251.9" y="2024"/>
<use href="#c" x="3308.1" y="2024"/>
<use href="#c" x="1642" y="2161"/>
<use href="#c" x="1679.8" y="2161"/>
<use href="#c" x="1736.5" y="2161"/>
<use href="#c" x="1755.4" y="2161"/>
<use href="#c" x="1774.3" y="2161"/>
<use href="#c" x="1793.2" y="2161"/>
<use href="#c" x="1812.1" y="2161"/>
<use href="#c" x="1831" y="2161"/>
<use href="#c" x="1849.9" y="2161"/>
<use href="#c" x="1868.8" y="2161"/>
<use href="#c" x="1887.7" y="2161"/>
<use href="#c" x="1906.6" y="2161"/>
<use href="#c" x="1963.3" y="2161"/>
<use href="#c" x="1982.2" y="2161"/>
<use href="#c" x="2020" y="2161"/>
<use href="#c" x="2038.9" y="2161"/>
<use href="#c" x="2057.8" y="2161"/>
<use href="#c" x="2076.7" y="2161"/>
<use href="#c" x="2095.6" y="2161"/>
<use href="#c" x="2114.5" y="2161"/>
<use href="#c" x="2133.4" y="2161"/>
<use href="#c" x="2171.2" y="2161"/>
<use href="#c" x="2190.1" y="2161"/>
<use href="#c" x="2209" y="2161"/>
<use href="#c" x="2227.9" y="2161"/>
<use href="#c" x="2246.8" y="2161"/>
<use href="#c" x="2265.7" y="2161"/>
<use href="#c" x="2284.6" y="2161"/>
<use href="#c" x="2303.5" y="2161"/>
<use href="#c" x="2322.4" y="2161"/>
<use href="#c" x="2341.3" y="2161"/>
<use href="#c" x="2360.2" y="2161"/>
<use href="#c" x="2379.1" y="2161"/>
<use href="#c" x="2398" y="2161"/>
<use href="#c" x="2416.9" y="2161"/>
<use href="#c" x="2435.8" y="2161"/>
<use href="#c" x="2454.7" y="2161"/>
<use href="#c" x="2473.6" y="2161"/>
<use href="#c" x="2492.5" y="2161"/>
<use href="#c" x="2511.4" y="2161"/>
<use href="#c" x="2530.3" y="2161"/>
<use href="#c" x="2549.2" y="2161"/>
<use href="#c" x="2568.1" y="2161"/>
<use href="#c" x="2587" y="2161"/>
<use href="#c" x="2605.9" y="2161"/>
<use href="#c" x="2624.8" y="2161"/>
<use href="#c" x="2643.7" y="2161"/>
<use href="#c" x="2662.6" y="2161"/>
<use href="#c" x="2681.5" y="2161"/>
<use href="#c" x="2700.4" y="2161"/>
<use href="#c" x="2719.3" y="2161"/>
<use href="#c" x="2738.2" y="2161"/>
<use href="#c" x="2757.1" y="2161"/>
<use href="#c" x="2776" y="2161"/>
<use href="#c" x="2794.9" y="2161"/>
<use href="#c" x="2813.8" y="2161"/>
<use href="#c" x="2832.7" y="2161"/>
<use href="#c" x="2851.6" y="2161"/>
<use href="#c" x="2870.5" y="2161"/>
<use href="#c" x="2889.4" y="2161"/>
<use href="#c" x="2908.3" y="2161"/>
<use href="#c" x="2946.1" y="2161"/>
<use href="#c" x="2965" y="2161"/>
<use href="#c" x="2983.9" y="2161"/>
<use href="#c" x="3059.5" y="2161"/>
<use href="#c" x="3154" y="2161"/>
<use href="#c" x="3191.8" y="2161"/>
<use href="#c" x="3248.5" y="2161"/>
<use href="#c" x="3343" y="2161"/>
<use href="#c" x="1596" y="2298.1"/>
<use href="#c" x="1623.3" y="2298.1"/>
<use href="#c" x="1630" y="2298.1"/>
<use href="#c" x="1646.7" y="2298.1"/>
<use href="#c" x="1651.7" y="2298.1"/>
<use href="#c" x="1656.7" y="2298.1"/>
<use href="#c" x="1670" y="2298.1"/>
<use href="#c" x="1673.3" y="2298.1"/>
<use href="#c" x="1699" y="2298.1"/>
<use href="#c" x="1750" y="2298.1"/>
<use href="#c" x="1753.3" y="2298.1"/>
<use href="#c" x="1803.3" y="2298.1"/>
<use href="#c" x="1808.3" y="2298.1"/>
<use href="#c" x="1813.3" y="2298.1"/>
<use href="#c" x="1818.3" y="2298.1"/>
<use href="#c" x="1823.3" y="2298.1"/>
<use href="#c" x="1828.3" y="2298.1"/>
<use href="#c" x="1831.7" y="2298.1"/>
<use href="#c" x="1863.3" y="2298.1"/>
<use href="#c" x="1868.3" y="2298.1"/>
<use href="#c" x="1876.7" y="2298.1"/>
<use href="#c" x="1888.3" y="2298.1"/>
<use href="#c" x="1900" y="2298.1"/>
<use href="#c" x="1910" y="2298.1"/>
<use href="#c" x="1914" y="2298.1"/>
<use href="#c" x="1939.3" y="2298.1"/>
<use href="#c" x="1960" y="2298.1"/>
<use href="#c" x="1985" y="2298.1"/>
<use href="#c" x="2001.7" y="2298.1"/>
<use href="#c" x="2015" y="2298.1"/>
<use href="#c" x="2020" y="2298.1"/>
<use href="#c" x="2026.7" y="2298.1"/>
<use href="#c" x="2031.7" y="2298.1"/>
<use href="#c" x="2037.3" y="2298.1"/>
<use href="#c" x="2051.7" y="2298.1"/>
<use href="#c" x="2056.7" y="2298.1"/>
<use href="#c" x="2061.7" y="2298.1"/>
<use href="#c" x="2066.7" y="2298.1"/>
<use href="#c" x="2070" y="2298.1"/>
<use href="#c" x="2088.3" y="2298.1"/>
<use href="#c" x="2103.3" y="2298.1"/>
<use href="#c" x="2125.7" y="2298.1"/>
<use href="#c" x="2136" y="2298.1"/>
<use href="#c" x="2165" y="2298.1"/>
<use href="#c" x="2183.3" y="2298.1"/>
<use href="#c" x="2197" y="2298.1"/>
<use href="#c" x="2208" y="2298.1"/>
<use href="#c" x="2212.6" y="2298.1"/>
<use href="#c" x="2217.2" y="2298.1"/>
<use href="#c" x="2221.8" y="2298.1"/>
<use href="#c" x="2226.4" y="2298.1"/>
<use href="#c" x="2235.6" y="2298.1"/>
<use href="#c" x="2240.2" y="2298.1"/>
<use href="#c" x="2244.8" y="2298.1"/>
<use href="#c" x="2249.4" y="2298.1"/>
<use href="#c" x="2254" y="2298.1"/>
<use href="#c" x="2264" y="2298.1"/>
<use href="#c" x="2272.8" y="2298.1"/>
<use href="#c" x="2277.2" y="2298.1"/>
<use href="#c" x="2281.6" y="2298.1"/>
<use href="#c" x="2286" y="2298.1"/>
<use href="#c" x="2290.4" y="2298.1"/>
<use href="#c" x="2294.8" y="2298.1"/>
<use href="#c" x="2299.2" y="2298.1"/>
<use href="#c" x="2303.6" y="2298.1"/>
<use href="#c" x="2308" y="2298.1"/>
<use href="#c" x="2312.4" y="2298.1"/>
<use href="#c" x="2316.8" y="2298.1"/>
<use href="#c" x="2321.2" y="2298.1"/>
<use href="#c" x="2325.6" y="2298.1"/>
<use href="#c" x="2330" y="2298.1"/>
<use href="#c" x="2334.4" y="2298.1"/>
<use href="#c" x="2338.8" y="2298.1"/>
<use href="#c" x="2347.6" y="2298.1"/>
<use href="#c" x="2352" y="2298.1"/>
<use href="#c" x="2354" y="2298.1"/>
<use href="#c" x="2357" y="2298.1"/>
<use href="#c" x="2360" y="2298.1"/>
<use href="#c" x="2363" y="2298.1"/>
<use href="#c" x="2366" y="2298.1"/>
<use href="#c" x="2369" y="2298.1"/>
<use href="#c" x="2372" y="2298.1"/>
<use href="#c" x="2375" y="2298.1"/>
<use href="#c" x="2378" y="2298.1"/>
<use href="#c" x="2381" y="2298.1"/>
<use href="#c" x="2384" y="2298.1"/>
<use href="#c" x="2387" y="2298.1"/>
<use href="#c" x="2390" y="2298.1"/>
<use href="#c" x="2393" y="2298.1"/>
<use href="#c" x="2396" y="2298.1"/>
<use href="#c" x="2399" y="2298.1"/>
<use href="#c" x="2402" y="2298.1"/>
<use href="#c" x="2405" y="2298.1"/>
<use href="#c" x="2408" y="2298.1"/>
<use href="#c" x="2411" y="2298.1"/>
<use href="#c" x="2414" y="2298.1"/>
<use href="#c" x="2417" y="2298.1"/>
<use href="#c" x="2420" y="2298.1"/>
<use href="#c" x="2423" y="2298.1"/>
<use href="#c" x="2426" y="2298.1"/>
<use href="#c" x="2429" y="2298.1"/>
<use href="#c" x="2432" y="2298.1"/>
<use href="#c" x="2435" y="2298.1"/>
<use href="#c" x="2438" y="2298.1"/>
<use href="#c" x="2441" y="2298.1"/>
<use href="#c" x="2444" y="2298.1"/>
<use href="#c" x="2447" y="2298.1"/>
<use href="#c" x="2450" y="2298.1"/>
<use href="#c" x="2453" y="2298.1"/>
<use href="#c" x="2456" y="2298.1"/>
<use href="#c" x="2459" y="2298.1"/>
<use href="#c" x="2462" y="2298.1"/>
<use href="#c" x="2465" y="2298.1"/>
<use href="#c" x="2468" y="2298.1"/>
<use href="#c" x="2471" y="2298.1"/>
<use href="#c" x="2474" y="2298.1"/>
<use href="#c" x="2477" y="2298.1"/>
<use href="#c" x="2480" y="2298.1"/>
<use href="#c" x="2483" y="2298.1"/>
<use href="#c" x="2486" y="2298.1"/>
<use href="#c" x="2489" y="2298.1"/>
<use href="#c" x="2492" y="2298.1"/>
<use href="#c" x="2495" y="2298.1"/>
<use href="#c" x="2498" y="2298.1"/>
<use href="#c" x="2501" y="2298.1"/>
<use href="#c" x="2504" y="2298.1"/>
<use href="#c" x="2507" y="2298.1"/>
<use href="#c" x="2510" y="2298.1"/>
<use href="#c" x="2513" y="2298.1"/>
<use href="#c" x="2516" y="2298.1"/>
<use href="#c" x="2519" y="2298.1"/>
<use href="#c" x="2522" y="2298.1"/>
<use href="#c" x="2525" y="2298.1"/>
<use href="#c" x="2528" y="2298.1"/>
<use href="#c" x="2531" y="2298.1"/>
<use href="#c" x="2534" y="2298.1"/>
<use href="#c" x="2537" y="2298.1"/>
<use href="#c" x="2540" y="2298.1"/>
<use href="#c" x="2543" y="2298.1"/>
<use href="#c" x="2546" y="2298.1"/>
<use href="#c" x="2549" y="2298.1"/>
<use href="#c" x="2552" y="2298.1"/>
<use href="#c" x="2555" y="2298.1"/>
<use href="#c" x="2558" y="2298.1"/>
<use href="#c" x="2561" y="2298.1"/>
<use href="#c" x="2564" y="2298.1"/>
<use href="#c" x="2567" y="2298.1"/>
<use href="#c" x="2570" y="2298.1"/>
<use href="#c" x="2573" y="2298.1"/>
<use href="#c" x="2576" y="2298.1"/>
<use href="#c" x="2579" y="2298.1"/>
<use href="#c" x="2582" y="2298.1"/>
<use href="#c" x="2585" y="2298.1"/>
<use href="#c" x="2588" y="2298.1"/>
<use href="#c" x="2591" y="2298.1"/>
<use href="#c" x="2594" y="2298.1"/>
<use href="#c" x="2597" y="2298.1"/>
<use href="#c" x="2600" y="2298.1"/>
<use href="#c" x="2603" y="2298.1"/>
<use href="#c" x="2606" y="2298.1"/>
<use href="#c" x="2609" y="2298.1"/>
<use href="#c" x="2612" y="2298.1"/>
<use href="#c" x="2615" y="2298.1"/>
<use href="#c" x="2618" y="2298.1"/>
<use href="#c" x="2621" y="2298.1"/>
<use href="#c" x="2624" y="2298.1"/>
<use href="#c" x="2627" y="2298.1"/>
<use href="#c" x="2630" y="2298.1"/>
<use href="#c" x="2633" y="2298.1"/>
<use href="#c" x="2636" y="2298.1"/>
<use href="#c" x="2639" y="2298.1"/>
<use href="#c" x="2642" y="2298.1"/>
<use href="#c" x="2645" y="2298.1"/>
<use href="#c" x="2648" y="2298.1"/>
<use href="#c" x="2651" y="2298.1"/>
<use href="#c" x="2654" y="2298.1"/>
<use href="#c" x="2657" y="2298.1"/>
<use href="#c" x="2660" y="2298.1"/>
<use href="#c" x="2663" y="2298.1"/>
<use href="#c" x="2666" y="2298.1"/>
<use href="#c" x="2669" y="2298.1"/>
<use href="#c" x="2672" y="2298.1"/>
<use href="#c" x="2675" y="2298.1"/>
<use href="#c" x="2678" y="2298.1"/>
<use href="#c" x="2681" y="2298.1"/>
<use href="#c" x="2684" y="2298.1"/>
<use href="#c" x="2687" y="2298.1"/>
<use href="#c" x="2690" y="2298.1"/>
<use href="#c" x="2693" y="2298.1"/>
<use href="#c" x="2696" y="2298.1"/>
<use href="#c" x="2699" y="2298.1"/>
<use href="#c" x="2702" y="2298.1"/>
<use href="#c" x="2705" y="2298.1"/>
<use href="#c" x="2708" y="2298.1"/>
<use href="#c" x="2711" y="2298.1"/>
<use href="#c" x="2714" y="2298.1"/>
<use href="#c" x="2717.5" y="2298.1"/>
<use href="#c" x="2724.5" y="2298.1"/>
<use href="#c" x="2728" y="2298.1"/>
<use href="#c" x="2731.5" y="2298.1"/>
<use href="#c" x="2735" y="2298.1"/>
<use href="#c" x="2742" y="2298.1"/>
<use href="#c" x="2745.5" y="2298.1"/>
<use href="#c" x="2749" y="2298.1"/>
<use href="#c" x="2752.5" y="2298.1"/>
<use href="#c" x="2759.5" y="2298.1"/>
<use href="#c" x="2763" y="2298.1"/>
<use href="#c" x="2773.5" y="2298.1"/>
<use href="#c" x="2780.5" y="2298.1"/>
<use href="#c" x="2784" y="2298.1"/>
<use href="#c" x="2791" y="2298.1"/>
<use href="#c" x="2794.5" y="2298.1"/>
<use href="#c" x="2798" y="2298.1"/>
<use href="#c" x="2813.3" y="2298.1"/>
<use href="#c" x="2822.5" y="2298.1"/>
<use href="#c" x="2823.3" y="2298.1"/>
<use href="#c" x="2840" y="2298.1"/>
<use href="#c" x="2846.7" y="2298.1"/>
<use href="#c" x="2863.3" y="2298.1"/>
<use href="#c" x="2874" y="2298.1"/>
<use href="#c" x="2887.5" y="2298.1"/>
<use href="#c" x="2903.3" y="2298.1"/>
<use href="#c" x="2906" y="2298.1"/>
<use href="#c" x="2924" y="2298.1"/>
<use href="#c" x="2931.7" y="2298.1"/>
<use href="#c" x="2952.5" y="2298.1"/>
<use href="#c" x="2990.5" y="2298.1"/>
<use href="#c" x="2992.5" y="2298.1"/>
<use href="#c" x="3050" y="2298.1"/>
<use href="#c" x="3055" y="2298.1"/>
<use href="#c" x="3152.7" y="2298.1"/>
<use href="#c" x="3233.3" y="2298.1"/>
<use href="#c" x="3235.3" y="2298.1"/>
<use href="#c" x="3338.3" y="2298.1"/>
<use href="#c" x="1592.7" y="2435.2"/>
<use href="#c" x="1620.7" y="2435.2"/>
<use href="#c" x="1635.7" y="2435.2"/>
<use href="#c" x="1699" y="2435.2"/>
<use href="#c" x="1724.3" y="2435.2"/>
<use href="#c" x="1727.7" y="2435.2"/>
<use href="#c" x="1791" y="2435.2"/>
<use href="#c" x="1818.3" y="2435.2"/>
<use href="#c" x="1825" y="2435.2"/>
<use href="#c" x="1837.3" y="2435.2"/>
<use href="#c" x="1852.3" y="2435.2"/>
<use href="#c" x="1868.3" y="2435.2"/>
<use href="#c" x="1872.7" y="2435.2"/>
<use href="#c" x="1876.7" y="2435.2"/>
<use href="#c" x="1908.3" y="2435.2"/>
<use href="#c" x="1911.7" y="2435.2"/>
<use href="#c" x="1935" y="2435.2"/>
<use href="#c" x="1946.7" y="2435.2"/>
<use href="#c" x="1952.7" y="2435.2"/>
<use href="#c" x="1962.7" y="2435.2"/>
<use href="#c" x="1967.3" y="2435.2"/>
<use href="#c" x="1972.7" y="2435.2"/>
<use href="#c" x="1983.3" y="2435.2"/>
<use href="#c" x="1988.3" y="2435.2"/>
<use href="#c" x="2006.7" y="2435.2"/>
<use href="#c" x="2013.3" y="2435.2"/>
<use href="#c" x="2019.3" y="2435.2"/>
<use href="#c" x="2024.3" y="2435.2"/>
<use href="#c" x="2031.7" y="2435.2"/>
<use href="#c" x="2041.7" y="2435.2"/>
<use href="#c" x="2053.3" y="2435.2"/>
<use href="#c" x="2066.7" y="2435.2"/>
<use href="#c" x="2071.7" y="2435.2"/>
<use href="#c" x="2083.3" y="2435.2"/>
<use href="#c" x="2093.3" y="2435.2"/>
<use href="#c" x="2100" y="2435.2"/>
<use href="#c" x="2108.3" y="2435.2"/>
<use href="#c" x="2120" y="2435.2"/>
<use href="#c" x="2126.7" y="2435.2"/>
<use href="#c" x="2133.3" y="2435.2"/>
<use href="#c" x="2140" y="2435.2"/>
<use href="#c" x="2150.5" y="2435.2"/>
<use href="#c" x="2154" y="2435.2"/>
<use href="#c" x="2164.5" y="2435.2"/>
<use href="#c" x="2168" y="2435.2"/>
<use href="#c" x="2171.5" y="2435.2"/>
<use href="#c" x="2175" y="2435.2"/>
<use href="#c" x="2178.5" y="2435.2"/>
<use href="#c" x="2182" y="2435.2"/>
<use href="#c" x="2185.5" y="2435.2"/>
<use href="#c" x="2189" y="2435.2"/>
<use href="#c" x="2196" y="2435.2"/>
<use href="#c" x="2199.5" y="2435.2"/>
<use href="#c" x="2203" y="2435.2"/>
<use href="#c" x="2206.5" y="2435.2"/>
<use href="#c" x="2217" y="2435.2"/>
<use href="#c" x="2224" y="2435.2"/>
<use href="#c" x="2227.5" y="2435.2"/>
<use href="#c" x="2234.5" y="2435.2"/>
<use href="#c" x="2238" y="2435.2"/>
<use href="#c" x="2241.5" y="2435.2"/>
<use href="#c" x="2245" y="2435.2"/>
<use href="#c" x="2248.5" y="2435.2"/>
<use href="#c" x="2252" y="2435.2"/>
<use href="#c" x="2255.5" y="2435.2"/>
<use href="#c" x="2259" y="2435.2"/>
<use href="#c" x="2262.5" y="2435.2"/>
<use href="#c" x="2266" y="2435.2"/>
<use href="#c" x="2269.5" y="2435.2"/>
<use href="#c" x="2273" y="2435.2"/>
<use href="#c" x="2275" y="2435.2"/>
<use href="#c" x="2277.9" y="2435.2"/>
<use href="#c" x="2280.8" y="2435.2"/>
<use href="#c" x="2283.7" y="2435.2"/>
<use href="#c" x="2286.6" y="2435.2"/>
<use href="#c" x="2289.5" y="2435.2"/>
<use href="#c" x="2292.4" y="2435.2"/>
<use href="#c" x="2295.3" y="2435.2"/>
<use href="#c" x="2298.2" y="2435.2"/>
<use href="#c" x="2301.1" y="2435.2"/>
<use href="#c" x="2304" y="2435.2"/>
<use href="#c" x="2306.9" y="2435.2"/>
<use href="#c" x="2309.8" y="2435.2"/>
<use href="#c" x="2312.7" y="2435.2"/>
<use href="#c" x="2315.6" y="2435.2"/>
<use href="#c" x="2318.5" y="2435.2"/>
<use href="#c" x="2321.4" y="2435.2"/>
<use href="#c" x="2324.3" y="2435.2"/>
<use href="#c" x="2327.2" y="2435.2"/>
<use href="#c" x="2330.1" y="2435.2"/>
<use href="#c" x="2333" y="2435.2"/>
<use href="#c" x="2335.9" y="2435.2"/>
<use href="#c" x="2338.8" y="2435.2"/>
<use href="#c" x="2341.7" y="2435.2"/>
<use href="#c" x="2344.6" y="2435.2"/>
<use href="#c" x="2347.5" y="2435.2"/>
<use href="#c" x="2350.4" y="2435.2"/>
<use href="#c" x="2353.3" y="2435.2"/>
<use href="#c" x="2356.2" y="2435.2"/>
<use href="#c" x="2359.1" y="2435.2"/>
<use href="#c" x="2362" y="2435.2"/>
<use href="#c" x="2364.9" y="2435.2"/>
<use href="#c" x="2367.8" y="2435.2"/>
<use href="#c" x="2370.7" y="2435.2"/>
<use href="#c" x="2373.6" y="2435.2"/>
<use href="#c" x="2376.5" y="2435.2"/>
<use href="#c" x="2379.4" y="2435.2"/>
<use href="#c" x="2382.3" y="2435.2"/>
<use href="#c" x="2385.2" y="2435.2"/>
<use href="#c" x="2388.1" y="2435.2"/>
<use href="#c" x="2391" y="2435.2"/>
<use href="#c" x="2393.9" y="2435.2"/>
<use href="#c" x="2396.8" y="2435.2"/>
<use href="#c" x="2399.7" y="2435.2"/>
<use href="#c" x="2402.6" y="2435.2"/>
<use href="#c" x="2405.5" y="2435.2"/>
<use href="#c" x="2408.4" y="2435.2"/>
<use href="#c" x="2411.3" y="2435.2"/>
<use href="#c" x="2414.2" y="2435.2"/>
<use href="#c" x="2417.1" y="2435.2"/>
<use href="#c" x="2420" y="2435.2"/>
<use href="#c" x="2422.9" y="2435.2"/>
<use href="#c" x="2425.8" y="2435.2"/>
<use href="#c" x="2428.7" y="2435.2"/>
<use href="#c" x="2431.6" y="2435.2"/>
<use href="#c" x="2434.5" y="2435.2"/>
<use href="#c" x="2437.4" y="2435.2"/>
<use href="#c" x="2440.3" y="2435.2"/>
<use href="#c" x="2443.2" y="2435.2"/>
<use href="#c" x="2446.1" y="2435.2"/>
<use href="#c" x="2449" y="2435.2"/>
<use href="#c" x="2451.9" y="2435.2"/>
<use href="#c" x="2454.8" y="2435.2"/>
<use href="#c" x="2457.7" y="2435.2"/>
<use href="#c" x="2460.6" y="2435.2"/>
<use href="#c" x="2463.5" y="2435.2"/>
<use href="#c" x="2466.4" y="2435.2"/>
<use href="#c" x="2469.3" y="2435.2"/>
<use href="#c" x="2472.2" y="2435.2"/>
<use href="#c" x="2475.1" y="2435.2"/>
<use href="#c" x="2478" y="2435.2"/>
<use href="#c" x="2480.9" y="2435.2"/>
<use href="#c" x="2483.8" y="2435.2"/>
<use href="#c" x="2486.7" y="2435.2"/>
<use href="#c" x="2489.6" y="2435.2"/>
<use href="#c" x="2492.5" y="2435.2"/>
<use href="#c" x="2495.4" y="2435.2"/>
<use href="#c" x="2498.3" y="2435.2"/>
<use href="#c" x="2501.2" y="2435.2"/>
<use href="#c" x="2504.1" y="2435.2"/>
<use href="#c" x="2507" y="2435.2"/>
<use href="#c" x="2509.9" y="2435.2"/>
<use href="#c" x="2512.8" y="2435.2"/>
<use href="#c" x="2515.7" y="2435.2"/>
<use href="#c" x="2518.6" y="2435.2"/>
<use href="#c" x="2521.5" y="2435.2"/>
<use href="#c" x="2524.4" y="2435.2"/>
<use href="#c" x="2527.3" y="2435.2"/>
<use href="#c" x="2530.2" y="2435.2"/>
<use href="#c" x="2533.1" y="2435.2"/>
<use href="#c" x="2536" y="2435.2"/>
<use href="#c" x="2538.9" y="2435.2"/>
<use href="#c" x="2541.8" y="2435.2"/>
<use href="#c" x="2544.7" y="2435.2"/>
<use href="#c" x="2547.6" y="2435.2"/>
<use href="#c" x="2550.5" y="2435.2"/>
<use href="#c" x="2553.4" y="2435.2"/>
<use href="#c" x="2556.3" y="2435.2"/>
<use href="#c" x="2559.2" y="2435.2"/>
<use href="#c" x="2562.1" y="2435.2"/>
<use href="#c" x="2565" y="2435.2"/>
<use href="#c" x="2567.9" y="2435.2"/>
<use href="#c" x="2570.8" y="2435.2"/>
<use href="#c" x="2573.7" y="2435.2"/>
<use href="#c" x="2576.6" y="2435.2"/>
<use href="#c" x="2579.5" y="2435.2"/>
<use href="#c" x="2582.4" y="2435.2"/>
<use href="#c" x="2585.3" y="2435.2"/>
<use href="#c" x="2588.2" y="2435.2"/>
<use href="#c" x="2591.1" y="2435.2"/>
<use href="#c" x="2594" y="2435.2"/>
<use href="#c" x="2596.9" y="2435.2"/>
<use href="#c" x="2599.8" y="2435.2"/>
<use href="#c" x="2602.7" y="2435.2"/>
<use href="#c" x="2605.6" y="2435.2"/>
<use href="#c" x="2608.5" y="2435.2"/>
<use href="#c" x="2611.4" y="2435.2"/>
<use href="#c" x="2614.3" y="2435.2"/>
<use href="#c" x="2617.2" y="2435.2"/>
<use href="#c" x="2620.1" y="2435.2"/>
<use href="#c" x="2623" y="2435.2"/>
<use href="#c" x="2625.9" y="2435.2"/>
<use href="#c" x="2628.8" y="2435.2"/>
<use href="#c" x="2631.7" y="2435.2"/>
<use href="#c" x="2634.6" y="2435.2"/>
<use href="#c" x="2637.5" y="2435.2"/>
<use href="#c" x="2640.4" y="2435.2"/>
<use href="#c" x="2643.3" y="2435.2"/>
<use href="#c" x="2646.2" y="2435.2"/>
<use href="#c" x="2649.1" y="2435.2"/>
<use href="#c" x="2652" y="2435.2"/>
<use href="#c" x="2654.9" y="2435.2"/>
<use href="#c" x="2657.8" y="2435.2"/>
<use href="#c" x="2660.7" y="2435.2"/>
<use href="#c" x="2663.6" y="2435.2"/>
<use href="#c" x="2666.5" y="2435.2"/>
<use href="#c" x="2669.4" y="2435.2"/>
<use href="#c" x="2672.3" y="2435.2"/>
<use href="#c" x="2675.2" y="2435.2"/>
<use href="#c" x="2678.1" y="2435.2"/>
<use href="#c" x="2681" y="2435.2"/>
<use href="#c" x="2683.9" y="2435.2"/>
<use href="#c" x="2686.8" y="2435.2"/>
<use href="#c" x="2689.7" y="2435.2"/>
<use href="#c" x="2692.6" y="2435.2"/>
<use href="#c" x="2695.5" y="2435.2"/>
<use href="#c" x="2698.4" y="2435.2"/>
<use href="#c" x="2701.3" y="2435.2"/>
<use href="#c" x="2704.2" y="2435.2"/>
<use href="#c" x="2707.1" y="2435.2"/>
<use href="#c" x="2710" y="2435.2"/>
<use href="#c" x="2712.9" y="2435.2"/>
<use href="#c" x="2715.8" y="2435.2"/>
<use href="#c" x="2718.7" y="2435.2"/>
<use href="#c" x="2721.6" y="2435.2"/>
<use href="#c" x="2724.5" y="2435.2"/>
<use href="#c" x="2727.4" y="2435.2"/>
<use href="#c" x="2730.3" y="2435.2"/>
<use href="#c" x="2733.2" y="2435.2"/>
<use href="#c" x="2736.1" y="2435.2"/>
<use href="#c" x="2739" y="2435.2"/>
<use href="#c" x="2741.9" y="2435.2"/>
<use href="#c" x="2744.8" y="2435.2"/>
<use href="#c" x="2747.7" y="2435.2"/>
<use href="#c" x="2750.6" y="2435.2"/>
<use href="#c" x="2753.5" y="2435.2"/>
<use href="#c" x="2756.4" y="2435.2"/>
<use href="#c" x="2759.3" y="2435.2"/>
<use href="#c" x="2762.2" y="2435.2"/>
<use href="#c" x="2765.1" y="2435.2"/>
<use href="#c" x="2769.8" y="2435.2"/>
<use href="#c" x="2790.8" y="2435.2"/>
<use href="#c" x="2800" y="2435.2"/>
<use href="#c" x="2804" y="2435.2"/>
<use href="#c" x="2815" y="2435.2"/>
<use href="#c" x="2820" y="2435.2"/>
<use href="#c" x="2828.3" y="2435.2"/>
<use href="#c" x="2833.3" y="2435.2"/>
<use href="#c" x="2836" y="2435.2"/>
<use href="#c" x="2838.3" y="2435.2"/>
<use href="#c" x="2864.2" y="2435.2"/>
<use href="#c" x="2865.8" y="2435.2"/>
<use href="#c" x="2876.7" y="2435.2"/>
<use href="#c" x="2888.3" y="2435.2"/>
<use href="#c" x="2900" y="2435.2"/>
<use href="#c" x="2902.5" y="2435.2"/>
<use href="#c" x="2952.5" y="2435.2"/>
<use href="#c" x="2984.2" y="2435.2"/>
<use href="#c" x="2999.2" y="2435.2"/>
<use href="#c" x="3038.3" y="2435.2"/>
<use href="#c" x="3047.5" y="2435.2"/>
<use href="#c" x="3098.3" y="2435.2"/>
<use href="#c" x="3190" y="2435.2"/>
<use href="#c" x="3193.3" y="2435.2"/>
<use href="#c" x="3367.7" y="2435.2"/>
<use href="#c" x="3398.3" y="2435.2"/>
<use href="#c" x="3406.7" y="2435.2"/>
<use href="#c" x="3439.3" y="2435.2"/>
<use href="#c" x="3474.3" y="2435.2"/>
<use href="#c" x="1582.3" y="2572.3"/>
<use href="#c" x="1629.3" y="2572.3"/>
<use href="#c" x="1662.3" y="2572.3"/>
<use href="#c" x="1681.3" y="2572.3"/>
<use href="#c" x="1700" y="2572.3"/>
<use href="#c" x="1719.3" y="2572.3"/>
<use href="#c" x="1743" y="2572.3"/>
<use href="#c" x="1771.3" y="2572.3"/>
<use href="#c" x="1799.3" y="2572.3"/>
<use href="#c" x="1814.3" y="2572.3"/>
<use href="#c" x="1832.7" y="2572.3"/>
<use href="#c" x="1847.3" y="2572.3"/>
<use href="#c" x="1893.3" y="2572.3"/>
<use href="#c" x="1898.3" y="2572.3"/>
<use href="#c" x="1903.3" y="2572.3"/>
<use href="#c" x="1910" y="2572.3"/>
<use href="#c" x="1916.7" y="2572.3"/>
<use href="#c" x="1921.7" y="2572.3"/>
<use href="#c" x="1926.7" y="2572.3"/>
<use href="#c" x="1931.7" y="2572.3"/>
<use href="#c" x="1936.7" y="2572.3"/>
<use href="#c" x="1987.7" y="2572.3"/>
<use href="#c" x="2007.7" y="2572.3"/>
<use href="#c" x="2016.7" y="2572.3"/>
<use href="#c" x="2022.7" y="2572.3"/>
<use href="#c" x="2031.7" y="2572.3"/>
<use href="#c" x="2036.7" y="2572.3"/>
<use href="#c" x="2054.3" y="2572.3"/>
<use href="#c" x="2078.3" y="2572.3"/>
<use href="#c" x="2093.3" y="2572.3"/>
<use href="#c" x="2106.7" y="2572.3"/>
<use href="#c" x="2126" y="2572.3"/>
<use href="#c" x="2131.7" y="2572.3"/>
<use href="#c" x="2138.3" y="2572.3"/>
<use href="#c" x="2153.3" y="2572.3"/>
<use href="#c" x="2160" y="2572.3"/>
<use href="#c" x="2168.3" y="2572.3"/>
<use href="#c" x="2177.5" y="2572.3"/>
<use href="#c" x="2201.7" y="2572.3"/>
<use href="#c" x="2215" y="2572.3"/>
<use href="#c" x="2229.3" y="2572.3"/>
<use href="#c" x="2259.3" y="2572.3"/>
<use href="#c" x="2264.1" y="2572.3"/>
<use href="#c" x="2268.8" y="2572.3"/>
<use href="#c" x="2273.6" y="2572.3"/>
<use href="#c" x="2278.4" y="2572.3"/>
<use href="#c" x="2283.2" y="2572.3"/>
<use href="#c" x="2287.9" y="2572.3"/>
<use href="#c" x="2292.7" y="2572.3"/>
<use href="#c" x="2297.5" y="2572.3"/>
<use href="#c" x="2302.2" y="2572.3"/>
<use href="#c" x="2307" y="2572.3"/>
<use href="#c" x="2311.8" y="2572.3"/>
<use href="#c" x="2316.5" y="2572.3"/>
<use href="#c" x="2321.3" y="2572.3"/>
<use href="#c" x="2326.1" y="2572.3"/>
<use href="#c" x="2330.8" y="2572.3"/>
<use href="#c" x="2335.6" y="2572.3"/>
<use href="#c" x="2340.7" y="2572.3"/>
<use href="#c" x="2345.4" y="2572.3"/>
<use href="#c" x="2350.2" y="2572.3"/>
<use href="#c" x="2355" y="2572.3"/>
<use href="#c" x="2359.7" y="2572.3"/>
<use href="#c" x="2364.5" y="2572.3"/>
<use href="#c" x="2369.3" y="2572.3"/>
<use href="#c" x="2374.1" y="2572.3"/>
<use href="#c" x="2378.8" y="2572.3"/>
<use href="#c" x="2383.6" y="2572.3"/>
<use href="#c" x="2388.4" y="2572.3"/>
<use href="#c" x="2393.1" y="2572.3"/>
<use href="#c" x="2397.9" y="2572.3"/>
<use href="#c" x="2402.7" y="2572.3"/>
<use href="#c" x="2407.4" y="2572.3"/>
<use href="#c" x="2412.2" y="2572.3"/>
<use href="#c" x="2417" y="2572.3"/>
<use href="#c" x="2421.8" y="2572.3"/>
<use href="#c" x="2426.5" y="2572.3"/>
<use href="#c" x="2431.3" y="2572.3"/>
<use href="#c" x="2436.1" y="2572.3"/>
<use href="#c" x="2440.8" y="2572.3"/>
<use href="#c" x="2445.6" y="2572.3"/>
<use href="#c" x="2450.4" y="2572.3"/>
<use href="#c" x="2455.1" y="2572.3"/>
<use href="#c" x="2459.9" y="2572.3"/>
<use href="#c" x="2464.7" y="2572.3"/>
<use href="#c" x="2469.5" y="2572.3"/>
<use href="#c" x="2474.2" y="2572.3"/>
<use href="#c" x="2479" y="2572.3"/>
<use href="#c" x="2483.8" y="2572.3"/>
<use href="#c" x="2488.5" y="2572.3"/>
<use href="#c" x="2493.3" y="2572.3"/>
<use href="#c" x="2498.1" y="2572.3"/>
<use href="#c" x="2502.8" y="2572.3"/>
<use href="#c" x="2507.6" y="2572.3"/>
<use href="#c" x="2512.4" y="2572.3"/>
<use href="#c" x="2517.2" y="2572.3"/>
<use href="#c" x="2521.9" y="2572.3"/>
<use href="#c" x="2526.7" y="2572.3"/>
<use href="#c" x="2531.5" y="2572.3"/>
<use href="#c" x="2536.2" y="2572.3"/>
<use href="#c" x="2541" y="2572.3"/>
<use href="#c" x="2545.8" y="2572.3"/>
<use href="#c" x="2550.5" y="2572.3"/>
<use href="#c" x="2555.3" y="2572.3"/>
<use href="#c" x="2560.1" y="2572.3"/>
<use href="#c" x="2564.9" y="2572.3"/>
<use href="#c" x="2569.6" y="2572.3"/>
<use href="#c" x="2574.4" y="2572.3"/>
<use href="#c" x="2579.2" y="2572.3"/>
<use href="#c" x="2583.9" y="2572.3"/>
<use href="#c" x="2588.7" y="2572.3"/>
<use href="#c" x="2593.5" y="2572.3"/>
<use href="#c" x="2598.2" y="2572.3"/>
<use href="#c" x="2603" y="2572.3"/>
<use href="#c" x="2607.8" y="2572.3"/>
<use href="#c" x="2612.6" y="2572.3"/>
<use href="#c" x="2617.3" y="2572.3"/>
<use href="#c" x="2622.1" y="2572.3"/>
<use href="#c" x="2626.9" y="2572.3"/>
<use href="#c" x="2631.6" y="2572.3"/>
<use href="#c" x="2636.4" y="2572.3"/>
<use href="#c" x="2641.2" y="2572.3"/>
<use href="#c" x="2645.9" y="2572.3"/>
<use href="#c" x="2650.7" y="2572.3"/>
<use href="#c" x="2655.5" y="2572.3"/>
<use href="#c" x="2660.3" y="2572.3"/>
<use href="#c" x="2665" y="2572.3"/>
<use href="#c" x="2669.8" y="2572.3"/>
<use href="#c" x="2674.6" y="2572.3"/>
<use href="#c" x="2679.3" y="2572.3"/>
<use href="#c" x="2684.1" y="2572.3"/>
<use href="#c" x="2688.9" y="2572.3"/>
<use href="#c" x="2693.6" y="2572.3"/>
<use href="#c" x="2698.4" y="2572.3"/>
<use href="#c" x="2703.2" y="2572.3"/>
<use href="#c" x="2708" y="2572.3"/>
<use href="#c" x="2712.7" y="2572.3"/>
<use href="#c" x="2715" y="2572.3"/>
<use href="#c" x="2719.8" y="2572.3"/>
<use href="#c" x="2724.5" y="2572.3"/>
<use href="#c" x="2729.3" y="2572.3"/>
<use href="#c" x="2743.6" y="2572.3"/>
<use href="#c" x="2753.2" y="2572.3"/>
<use href="#c" x="2757.9" y="2572.3"/>
<use href="#c" x="2762.7" y="2572.3"/>
<use href="#c" x="2767.5" y="2572.3"/>
<use href="#c" x="2772.2" y="2572.3"/>
<use href="#c" x="2777" y="2572.3"/>
<use href="#c" x="2786.5" y="2572.3"/>
<use href="#c" x="2791.3" y="2572.3"/>
<use href="#c" x="2805.6" y="2572.3"/>
<use href="#c" x="2810.4" y="2572.3"/>
<use href="#c" x="2815.2" y="2572.3"/>
<use href="#c" x="2819.9" y="2572.3"/>
<use href="#c" x="2824.7" y="2572.3"/>
<use href="#c" x="2829.5" y="2572.3"/>
<use href="#c" x="2834.2" y="2572.3"/>
<use href="#c" x="2839" y="2572.3"/>
<use href="#c" x="2843.8" y="2572.3"/>
<use href="#c" x="2858.1" y="2572.3"/>
<use href="#c" x="2862.9" y="2572.3"/>
<use href="#c" x="2867.6" y="2572.3"/>
<use href="#c" x="2872.4" y="2572.3"/>
<use href="#c" x="2877.2" y="2572.3"/>
<use href="#c" x="2885.8" y="2572.3"/>
<use href="#c" x="2890.8" y="2572.3"/>
<use href="#c" x="2900" y="2572.3"/>
<use href="#c" x="2921.7" y="2572.3"/>
<use href="#c" x="2924" y="2572.3"/>
<use href="#c" x="2933.3" y="2572.3"/>
<use href="#c" x="2955" y="2572.3"/>
<use href="#c" x="2957.5" y="2572.3"/>
<use href="#c" x="2980.8" y="2572.3"/>
<use href="#c" x="3013.3" y="2572.3"/>
<use href="#c" x="3046.7" y="2572.3"/>
<use href="#c" x="3090" y="2572.3"/>
<use href="#c" x="3246" y="2572.3"/>
<use href="#c" x="3340.7" y="2572.3"/>
<use href="#c" x="3382.7" y="2572.3"/>
<use href="#c" x="3425.3" y="2572.3"/>
</g>
<line x1="2529.9" y1="24.0" x2="2529.9" y2="2653.5" stroke="#7F7F7F" stroke-width="3.8"/>
<line x1="2053.8" y1="2653.9" x2="2053.8" y2="24.0" stroke="#7F7F7F" stroke-width="5.4" stroke-dasharray="21.33 21.33"/>
<line x1="3006" y1="2653.9" x2="3006" y2="24.0" stroke="#7F7F7F" stroke-width="5.4" stroke-dasharray="21.33 21.33"/>
<g fill="#DC3000">
<circle cx="2387.8" cy="104.4" r="16.45"/>
<circle cx="2347.1" cy="241.5" r="16.45"/>
<circle cx="2408.3" cy="378.5" r="16.45"/>
<circle cx="2407.1" cy="515.6" r="16.45"/>
<circle cx="2327.8" cy="652.7" r="16.45"/>
<circle cx="2540.5" cy="789.7" r="16.45"/>
<circle cx="2586" cy="926.8" r="16.45"/>
<circle cx="2387.1" cy="1063.9" r="16.45"/>
<circle cx="2207.7" cy="1201" r="16.45"/>
<circle cx="2331" cy="1338" r="16.45"/>
<circle cx="2176.3" cy="1475.1" r="16.45"/>
<circle cx="2208.3" cy="1612.2" r="16.45"/>
<circle cx="2309" cy="1749.2" r="16.45"/>
<circle cx="2308.8" cy="1886.3" r="16.45"/>
<circle cx="2466" cy="2023.4" r="16.45"/>
<circle cx="2436" cy="2160.4" r="16.45"/>
<circle cx="2374.7" cy="2297.5" r="16.45"/>
<circle cx="2288.8" cy="2434.6" r="16.45"/>
<circle cx="2366.7" cy="2571.7" r="16.45"/>
</g>
<rect x="1483.7" y="24.0" width="2092.4" height="2629.5" fill="none" stroke="#000" stroke-width="2.4"/>
<g stroke="#333333">
<line x1="1471" y1="105" x2="1482.5" y2="105" stroke-width="4.1"/>
<line x1="1471" y1="242.1" x2="1482.5" y2="242.1" stroke-width="4.1"/>
<line x1="1471" y1="379.1" x2="1482.5" y2="379.1" stroke-width="4.1"/>
<line x1="1471" y1="516.2" x2="1482.5" y2="516.2" stroke-width="4.1"/>
<line x1="1471" y1="653.3" x2="1482.5" y2="653.3" stroke-width="4.1"/>
<line x1="1471" y1="790.3" x2="1482.5" y2="790.3" stroke-width="4.1"/>
<line x1="1471" y1="927.4" x2="1482.5" y2="927.4" stroke-width="4.1"/>
<line x1="1471" y1="1064.5" x2="1482.5" y2="1064.5" stroke-width="4.1"/>
<line x1="1471" y1="1201.6" x2="1482.5" y2="1201.6" stroke-width="4.1"/>
<line x1="1471" y1="1338.6" x2="1482.5" y2="1338.6" stroke-width="4.1"/>
<line x1="1471" y1="1475.7" x2="1482.5" y2="1475.7" stroke-width="4.1"/>
<line x1="1471" y1="1612.8" x2="1482.5" y2="1612.8" stroke-width="4.1"/>
<line x1="1471" y1="1749.8" x2="1482.5" y2="1749.8" stroke-width="4.1"/>
<line x1="1471" y1="1886.9" x2="1482.5" y2="1886.9" stroke-width="4.1"/>
<line x1="1471" y1="2024" x2="1482.5" y2="2024" stroke-width="4.1"/>
<line x1="1471" y1="2161" x2="1482.5" y2="2161" stroke-width="4.1"/>
<line x1="1471" y1="2298.1" x2="1482.5" y2="2298.1" stroke-width="4.1"/>
<line x1="1471" y1="2435.2" x2="1482.5" y2="2435.2" stroke-width="4.1"/>
<line x1="1471" y1="2572.3" x2="1482.5" y2="2572.3" stroke-width="4.1"/>
<line x1="1577.7" y1="2654.7" x2="1577.7" y2="2666" stroke-width="4.5"/>
<line x1="1815.8" y1="2654.7" x2="1815.8" y2="2666" stroke-width="4.5"/>
<line x1="2053.8" y1="2654.7" x2="2053.8" y2="2666" stroke-width="4.5"/>
<line x1="2291.8" y1="2654.7" x2="2291.8" y2="2666" stroke-width="4.5"/>
<line x1="2529.9" y1="2654.7" x2="2529.9" y2="2666" stroke-width="4.5"/>
<line x1="2768" y1="2654.7" x2="2768" y2="2666" stroke-width="4.5"/>
<line x1="3006" y1="2654.7" x2="3006" y2="2666" stroke-width="4.5"/>
<line x1="3244.1" y1="2654.7" x2="3244.1" y2="2666" stroke-width="4.5"/>
<line x1="3482.1" y1="2654.7" x2="3482.1" y2="2666" stroke-width="4.5"/>
</g>
<g font-size="66.67" text-anchor="end">
<text transform="translate(1460.5,122) scale(1,1.02)" fill="#0000EE">Carbohydrate metabolism</text>
<text transform="translate(1460.5,259.1) scale(1,1.02)" fill="#9933CC">Energy metabolism</text>
<text transform="translate(1460.5,396.1) scale(1,1.02)" fill="#009999">Lipid metabolism</text>
<text transform="translate(1460.5,533.2) scale(1,1.02)" fill="#FF0000">Nucleotide metabolism</text>
<text transform="translate(1460.5,670.3) scale(1,1.02)" fill="#FF9933">Amino acid metabolism</text>
<text transform="translate(1460.5,807.3) scale(1,1.02)" fill="#FF6600" textLength="963.1" lengthAdjust="spacing">Metabolism of other amino acids</text>
<text transform="translate(1460.5,944.4) scale(1,1.02)" fill="#3399FF">Glycan biosynthesis and metabolism</text>
<text transform="translate(1460.5,1081.5) scale(1,1.02)" fill="#FF6699" textLength="1099.1" lengthAdjust="spacing">Metabolism of cofactors and vitamins</text>
<text transform="translate(1460.5,1218.6) scale(1,1.02)" fill="#00CC33" textLength="1228.9" lengthAdjust="spacing">Metabolism of terpenoids and polyketides</text>
<text transform="translate(1460.5,1355.6) scale(1,1.02)" fill="#CC3366">Biosynthesis of other secondary metabolites</text>
<text transform="translate(1460.5,1492.7) scale(1,1.02)" fill="#CCAA99">Xenobiotics biodegradation and metabolism</text>
<text transform="translate(1460.5,1629.8) scale(1,1.02)" fill="#FFCCCC">Genetic Information Processing</text>
<text transform="translate(1460.5,1766.8) scale(1,1.02)" fill="#FFD700">Environmental Information Processing</text>
<text transform="translate(1460.5,1903.9) scale(1,1.02)" fill="#99CC66">Cellular Processes</text>
<text transform="translate(1460.5,2041) scale(1,1.02)" fill="#99CC66">Organismal Systems</text>
<text transform="translate(1460.5,2178) scale(1,1.02)" fill="#99CC66">Human Diseases</text>
<text transform="translate(1460.5,2315.1) scale(1,1.02)" fill="#22DDDD">Protein families: metabolism</text>
<text transform="translate(1460.5,2452.2) scale(1,1.02)" fill="#FFCCCC">Protein families: genetic information processing</text>
<text transform="translate(1460.5,2589.3) scale(1,1.02)" fill="#99CC66">Protein families: signaling and cellular processes</text>
</g>
<g font-size="62.5" text-anchor="middle" fill="#4D4D4D">
<text transform="translate(1577.7,2721) scale(1,1.035)">-4</text>
<text transform="translate(1815.8,2721) scale(1,1.035)">-3</text>
<text transform="translate(2053.8,2721) scale(1,1.035)">-2</text>
<text transform="translate(2291.8,2721) scale(1,1.035)">-1</text>
<text transform="translate(2529.9,2721) scale(1,1.035)">0</text>
<text transform="translate(2768,2721) scale(1,1.035)">1</text>
<text transform="translate(3006,2721) scale(1,1.035)">2</text>
<text transform="translate(3244.1,2721) scale(1,1.035)">3</text>
<text transform="translate(3482.1,2721) scale(1,1.035)">4</text>
</g>
<text x="2529.9" y="2799.3" font-size="71.5" font-weight="bold" text-anchor="middle" fill="#000">Z-score</text>
<use href="#c" x="2227.3" y="2918"/>
<text x="2285" y="2940.5" font-size="58.33" fill="#000">Background</text>
<circle cx="2652.6" cy="2918.4" r="16.45" fill="#DC3000"/>
<text x="2710.5" y="2940.5" font-size="58.33" fill="#000">Query</text>
</svg></body></html>
